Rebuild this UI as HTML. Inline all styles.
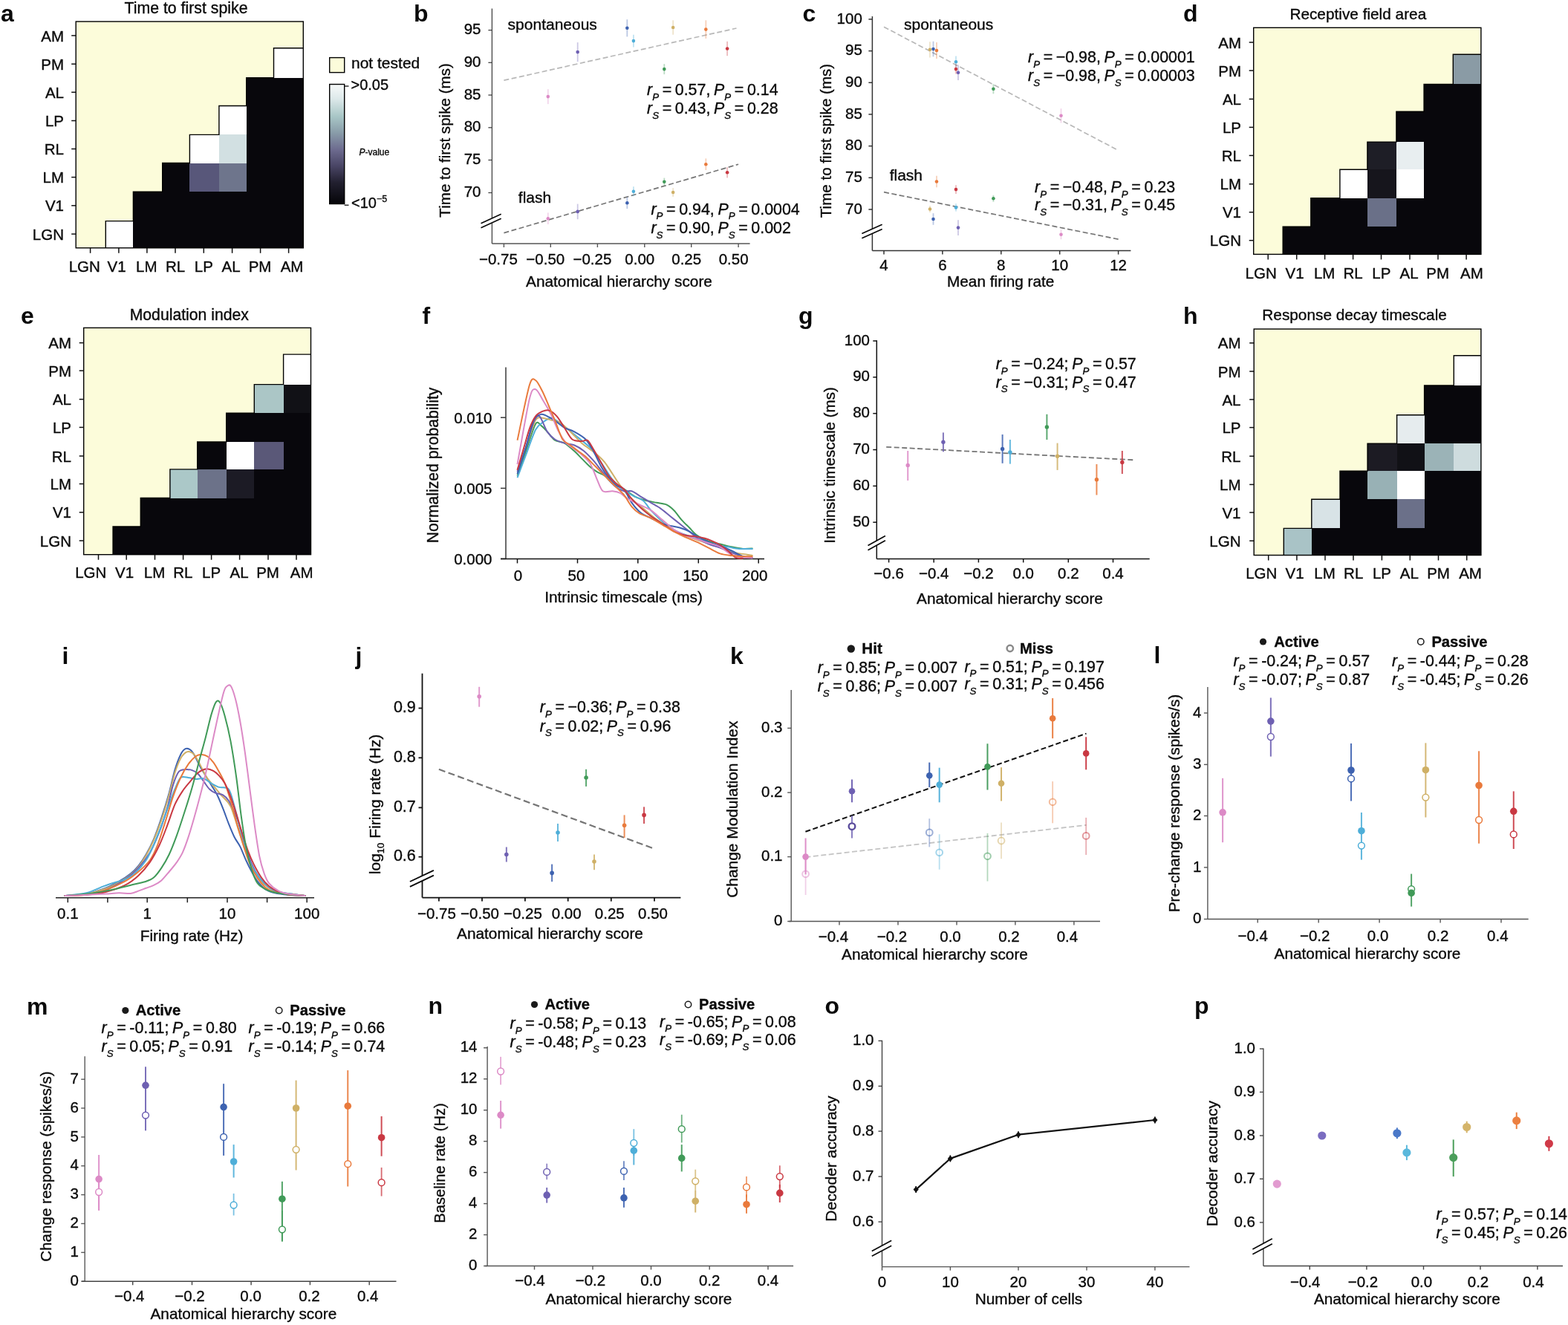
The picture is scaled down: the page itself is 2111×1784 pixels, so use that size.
<!DOCTYPE html>
<html><head><meta charset="utf-8"><title>Figure</title>
<style>
html,body{margin:0;padding:0;background:#fff;}
body{width:2111px;height:1784px;overflow:hidden;}
svg{display:block;}
text{font-family:"Liberation Sans", Arial, Helvetica, sans-serif;fill:#0a0a0a;stroke:#0a0a0a;stroke-width:0.35px;}
</style></head><body>
<svg width="2111" height="1784" viewBox="0 0 2111 1784" font-size="21">
<defs>
<linearGradient id="cbar" x1="0" y1="0" x2="0" y2="1">
<stop offset="0" stop-color="#f8fafa"/>
<stop offset="0.12" stop-color="#dde9ea"/>
<stop offset="0.27" stop-color="#a8c6c6"/>
<stop offset="0.40" stop-color="#8a9eaa"/>
<stop offset="0.55" stop-color="#6c6a8e"/>
<stop offset="0.68" stop-color="#4a4666"/>
<stop offset="0.82" stop-color="#222030"/>
<stop offset="1" stop-color="#050508"/>
</linearGradient>
</defs>
<rect width="2111" height="1784" fill="#fff"/>
<text x="1" y="28.5" font-size="32" font-weight="bold" style="stroke:none">a</text>
<text x="250.5" y="18.2" font-size="21.3" text-anchor="middle">Time to first spike</text>
<rect x="102.2" y="29" width="306.1" height="304.8" fill="#fcfcda"/>
<rect x="368.5" y="64.8" width="39.8" height="40" fill="#ffffff" shape-rendering="crispEdges"/>
<rect x="331.7" y="104.8" width="36.8" height="37.7" fill="#08070c" shape-rendering="crispEdges"/>
<rect x="368.5" y="104.8" width="39.8" height="37.7" fill="#08070c" shape-rendering="crispEdges"/>
<rect x="294.9" y="142.5" width="36.8" height="38.9" fill="#ffffff" shape-rendering="crispEdges"/>
<rect x="331.7" y="142.5" width="36.8" height="38.9" fill="#08070c" shape-rendering="crispEdges"/>
<rect x="368.5" y="142.5" width="39.8" height="38.9" fill="#08070c" shape-rendering="crispEdges"/>
<rect x="255.4" y="181.4" width="39.5" height="38.1" fill="#ffffff" shape-rendering="crispEdges"/>
<rect x="294.9" y="181.4" width="36.8" height="38.1" fill="#d2e0e2" shape-rendering="crispEdges"/>
<rect x="331.7" y="181.4" width="36.8" height="38.1" fill="#08070c" shape-rendering="crispEdges"/>
<rect x="368.5" y="181.4" width="39.8" height="38.1" fill="#08070c" shape-rendering="crispEdges"/>
<rect x="218.7" y="219.5" width="36.7" height="38.8" fill="#08070c" shape-rendering="crispEdges"/>
<rect x="255.4" y="219.5" width="39.5" height="38.8" fill="#58577a" shape-rendering="crispEdges"/>
<rect x="294.9" y="219.5" width="36.8" height="38.8" fill="#6e758c" shape-rendering="crispEdges"/>
<rect x="331.7" y="219.5" width="36.8" height="38.8" fill="#08070c" shape-rendering="crispEdges"/>
<rect x="368.5" y="219.5" width="39.8" height="38.8" fill="#08070c" shape-rendering="crispEdges"/>
<rect x="179.4" y="258.3" width="39.3" height="39.3" fill="#08070c" shape-rendering="crispEdges"/>
<rect x="218.7" y="258.3" width="36.7" height="39.3" fill="#08070c" shape-rendering="crispEdges"/>
<rect x="255.4" y="258.3" width="39.5" height="39.3" fill="#08070c" shape-rendering="crispEdges"/>
<rect x="294.9" y="258.3" width="36.8" height="39.3" fill="#08070c" shape-rendering="crispEdges"/>
<rect x="331.7" y="258.3" width="36.8" height="39.3" fill="#08070c" shape-rendering="crispEdges"/>
<rect x="368.5" y="258.3" width="39.8" height="39.3" fill="#08070c" shape-rendering="crispEdges"/>
<rect x="142.3" y="297.6" width="37.1" height="36.2" fill="#ffffff" shape-rendering="crispEdges"/>
<rect x="179.4" y="297.6" width="39.3" height="36.2" fill="#08070c" shape-rendering="crispEdges"/>
<rect x="218.7" y="297.6" width="36.7" height="36.2" fill="#08070c" shape-rendering="crispEdges"/>
<rect x="255.4" y="297.6" width="39.5" height="36.2" fill="#08070c" shape-rendering="crispEdges"/>
<rect x="294.9" y="297.6" width="36.8" height="36.2" fill="#08070c" shape-rendering="crispEdges"/>
<rect x="331.7" y="297.6" width="36.8" height="36.2" fill="#08070c" shape-rendering="crispEdges"/>
<rect x="368.5" y="297.6" width="39.8" height="36.2" fill="#08070c" shape-rendering="crispEdges"/>
<path d="M408.3 64.8 L368.5 64.8 L368.5 104.8 L331.7 104.8 L331.7 142.5 L294.9 142.5 L294.9 181.4 L255.4 181.4 L255.4 219.5 L218.7 219.5 L218.7 258.3 L179.4 258.3 L179.4 297.6 L142.3 297.6 L142.3 333.8" fill="none" stroke="#000" stroke-width="1.4"/>
<rect x="102.2" y="29" width="306.1" height="304.8" fill="none" stroke="#000" stroke-width="1.4"/>
<line x1="96.2" y1="315.1" x2="102.2" y2="315.1" stroke="#111" stroke-width="1.5"/>
<text x="86" y="322.7" font-size="20.5" text-anchor="end">LGN</text>
<line x1="121.6" y1="333.8" x2="121.6" y2="340.8" stroke="#111" stroke-width="1.5"/>
<text x="113.8" y="366" font-size="20.5" text-anchor="middle">LGN</text>
<line x1="96.2" y1="276.8" x2="102.2" y2="276.8" stroke="#111" stroke-width="1.5"/>
<text x="86" y="284.4" font-size="20.5" text-anchor="end">V1</text>
<line x1="159.9" y1="333.8" x2="159.9" y2="340.8" stroke="#111" stroke-width="1.5"/>
<text x="157" y="366" font-size="20.5" text-anchor="middle">V1</text>
<line x1="96.2" y1="238.6" x2="102.2" y2="238.6" stroke="#111" stroke-width="1.5"/>
<text x="86" y="246.2" font-size="20.5" text-anchor="end">LM</text>
<line x1="197.9" y1="333.8" x2="197.9" y2="340.8" stroke="#111" stroke-width="1.5"/>
<text x="197.3" y="366" font-size="20.5" text-anchor="middle">LM</text>
<line x1="96.2" y1="200.5" x2="102.2" y2="200.5" stroke="#111" stroke-width="1.5"/>
<text x="86" y="208.1" font-size="20.5" text-anchor="end">RL</text>
<line x1="236" y1="333.8" x2="236" y2="340.8" stroke="#111" stroke-width="1.5"/>
<text x="236" y="366" font-size="20.5" text-anchor="middle">RL</text>
<line x1="96.2" y1="162.5" x2="102.2" y2="162.5" stroke="#111" stroke-width="1.5"/>
<text x="86" y="170.1" font-size="20.5" text-anchor="end">LP</text>
<line x1="274.3" y1="333.8" x2="274.3" y2="340.8" stroke="#111" stroke-width="1.5"/>
<text x="274.3" y="366" font-size="20.5" text-anchor="middle">LP</text>
<line x1="96.2" y1="124.2" x2="102.2" y2="124.2" stroke="#111" stroke-width="1.5"/>
<text x="86" y="131.8" font-size="20.5" text-anchor="end">AL</text>
<line x1="312.6" y1="333.8" x2="312.6" y2="340.8" stroke="#111" stroke-width="1.5"/>
<text x="311" y="366" font-size="20.5" text-anchor="middle">AL</text>
<line x1="96.2" y1="86.2" x2="102.2" y2="86.2" stroke="#111" stroke-width="1.5"/>
<text x="86" y="93.8" font-size="20.5" text-anchor="end">PM</text>
<line x1="350.6" y1="333.8" x2="350.6" y2="340.8" stroke="#111" stroke-width="1.5"/>
<text x="350" y="366" font-size="20.5" text-anchor="middle">PM</text>
<line x1="96.2" y1="47.9" x2="102.2" y2="47.9" stroke="#111" stroke-width="1.5"/>
<text x="86" y="55.5" font-size="20.5" text-anchor="end">AM</text>
<line x1="388.6" y1="333.8" x2="388.6" y2="340.8" stroke="#111" stroke-width="1.5"/>
<text x="393" y="366" font-size="20.5" text-anchor="middle">AM</text>
<rect x="443.7" y="77.6" width="20" height="20" fill="#fcfcda" stroke="#000" stroke-width="1.4"/>
<text x="473" y="92">not tested</text>
<rect x="443.7" y="113.5" width="20" height="161" fill="url(#cbar)" stroke="#000" stroke-width="1.4"/>
<line x1="463.7" y1="116" x2="469.5" y2="116" stroke="#111" stroke-width="1.3"/>
<line x1="463.7" y1="276.2" x2="469.5" y2="276.2" stroke="#111" stroke-width="1.3"/>
<text x="472.5" y="120.8" font-size="20">&gt;0.05</text>
<text x="473" y="279.5" font-size="20">&lt;10<tspan font-size="12.5" dy="-8">−5</tspan></text>
<text x="483.5" y="208.6" font-size="12"><tspan font-style="italic">P</tspan>-value</text>
<text x="1593" y="28.5" font-size="32" font-weight="bold" style="stroke:none">d</text>
<text x="1828.3" y="26.4" font-size="20.8" text-anchor="middle">Receptive field area</text>
<rect x="1687.7" y="37.3" width="306.2" height="305.1" fill="#fcfcda"/>
<rect x="1956.3" y="73.2" width="37.6" height="40.2" fill="#8a9ba5" shape-rendering="crispEdges"/>
<rect x="1917.1" y="113.4" width="39.2" height="36.9" fill="#08070c" shape-rendering="crispEdges"/>
<rect x="1956.3" y="113.4" width="37.6" height="36.9" fill="#08070c" shape-rendering="crispEdges"/>
<rect x="1879.9" y="150.3" width="37.2" height="40.8" fill="#08070c" shape-rendering="crispEdges"/>
<rect x="1917.1" y="150.3" width="39.2" height="40.8" fill="#08070c" shape-rendering="crispEdges"/>
<rect x="1956.3" y="150.3" width="37.6" height="40.8" fill="#08070c" shape-rendering="crispEdges"/>
<rect x="1840.9" y="191.1" width="39" height="37.2" fill="#1e1e26" shape-rendering="crispEdges"/>
<rect x="1879.9" y="191.1" width="37.2" height="37.2" fill="#e8eef0" shape-rendering="crispEdges"/>
<rect x="1917.1" y="191.1" width="39.2" height="37.2" fill="#08070c" shape-rendering="crispEdges"/>
<rect x="1956.3" y="191.1" width="37.6" height="37.2" fill="#08070c" shape-rendering="crispEdges"/>
<rect x="1803.9" y="228.3" width="37" height="38.4" fill="#ffffff" shape-rendering="crispEdges"/>
<rect x="1840.9" y="228.3" width="39" height="38.4" fill="#16151c" shape-rendering="crispEdges"/>
<rect x="1879.9" y="228.3" width="37.2" height="38.4" fill="#ffffff" shape-rendering="crispEdges"/>
<rect x="1917.1" y="228.3" width="39.2" height="38.4" fill="#08070c" shape-rendering="crispEdges"/>
<rect x="1956.3" y="228.3" width="37.6" height="38.4" fill="#08070c" shape-rendering="crispEdges"/>
<rect x="1764.8" y="266.7" width="39.1" height="38.6" fill="#08070c" shape-rendering="crispEdges"/>
<rect x="1803.9" y="266.7" width="37" height="38.6" fill="#08070c" shape-rendering="crispEdges"/>
<rect x="1840.9" y="266.7" width="39" height="38.6" fill="#6a7088" shape-rendering="crispEdges"/>
<rect x="1879.9" y="266.7" width="37.2" height="38.6" fill="#08070c" shape-rendering="crispEdges"/>
<rect x="1917.1" y="266.7" width="39.2" height="38.6" fill="#08070c" shape-rendering="crispEdges"/>
<rect x="1956.3" y="266.7" width="37.6" height="38.6" fill="#08070c" shape-rendering="crispEdges"/>
<rect x="1727.2" y="305.3" width="37.6" height="37.1" fill="#08070c" shape-rendering="crispEdges"/>
<rect x="1764.8" y="305.3" width="39.1" height="37.1" fill="#08070c" shape-rendering="crispEdges"/>
<rect x="1803.9" y="305.3" width="37" height="37.1" fill="#08070c" shape-rendering="crispEdges"/>
<rect x="1840.9" y="305.3" width="39" height="37.1" fill="#08070c" shape-rendering="crispEdges"/>
<rect x="1879.9" y="305.3" width="37.2" height="37.1" fill="#08070c" shape-rendering="crispEdges"/>
<rect x="1917.1" y="305.3" width="39.2" height="37.1" fill="#08070c" shape-rendering="crispEdges"/>
<rect x="1956.3" y="305.3" width="37.6" height="37.1" fill="#08070c" shape-rendering="crispEdges"/>
<path d="M1993.9 73.2 L1956.3 73.2 L1956.3 113.4 L1917.1 113.4 L1917.1 150.3 L1879.9 150.3 L1879.9 191.1 L1840.9 191.1 L1840.9 228.3 L1803.9 228.3 L1803.9 266.7 L1764.8 266.7 L1764.8 305.3 L1727.2 305.3 L1727.2 342.4" fill="none" stroke="#000" stroke-width="1.4"/>
<rect x="1687.7" y="37.3" width="306.2" height="305.1" fill="none" stroke="#000" stroke-width="1.4"/>
<line x1="1681.7" y1="323.7" x2="1687.7" y2="323.7" stroke="#111" stroke-width="1.5"/>
<text x="1671" y="331.3" font-size="20.5" text-anchor="end">LGN</text>
<line x1="1707.2" y1="342.4" x2="1707.2" y2="349.4" stroke="#111" stroke-width="1.5"/>
<text x="1697.7" y="374.6" font-size="20.5" text-anchor="middle">LGN</text>
<line x1="1681.7" y1="285.7" x2="1687.7" y2="285.7" stroke="#111" stroke-width="1.5"/>
<text x="1671" y="293.3" font-size="20.5" text-anchor="end">V1</text>
<line x1="1745.7" y1="342.4" x2="1745.7" y2="349.4" stroke="#111" stroke-width="1.5"/>
<text x="1743" y="374.6" font-size="20.5" text-anchor="middle">V1</text>
<line x1="1681.7" y1="247.8" x2="1687.7" y2="247.8" stroke="#111" stroke-width="1.5"/>
<text x="1671" y="255.4" font-size="20.5" text-anchor="end">LM</text>
<line x1="1783.6" y1="342.4" x2="1783.6" y2="349.4" stroke="#111" stroke-width="1.5"/>
<text x="1783.2" y="374.6" font-size="20.5" text-anchor="middle">LM</text>
<line x1="1681.7" y1="209.4" x2="1687.7" y2="209.4" stroke="#111" stroke-width="1.5"/>
<text x="1671" y="217" font-size="20.5" text-anchor="end">RL</text>
<line x1="1821.6" y1="342.4" x2="1821.6" y2="349.4" stroke="#111" stroke-width="1.5"/>
<text x="1821.6" y="374.6" font-size="20.5" text-anchor="middle">RL</text>
<line x1="1681.7" y1="171.4" x2="1687.7" y2="171.4" stroke="#111" stroke-width="1.5"/>
<text x="1671" y="179" font-size="20.5" text-anchor="end">LP</text>
<line x1="1859.5" y1="342.4" x2="1859.5" y2="349.4" stroke="#111" stroke-width="1.5"/>
<text x="1859.8" y="374.6" font-size="20.5" text-anchor="middle">LP</text>
<line x1="1681.7" y1="133.4" x2="1687.7" y2="133.4" stroke="#111" stroke-width="1.5"/>
<text x="1671" y="141" font-size="20.5" text-anchor="end">AL</text>
<line x1="1898" y1="342.4" x2="1898" y2="349.4" stroke="#111" stroke-width="1.5"/>
<text x="1897.1" y="374.6" font-size="20.5" text-anchor="middle">AL</text>
<line x1="1681.7" y1="95" x2="1687.7" y2="95" stroke="#111" stroke-width="1.5"/>
<text x="1671" y="102.6" font-size="20.5" text-anchor="end">PM</text>
<line x1="1936" y1="342.4" x2="1936" y2="349.4" stroke="#111" stroke-width="1.5"/>
<text x="1935.7" y="374.6" font-size="20.5" text-anchor="middle">PM</text>
<line x1="1681.7" y1="57" x2="1687.7" y2="57" stroke="#111" stroke-width="1.5"/>
<text x="1671" y="64.6" font-size="20.5" text-anchor="end">AM</text>
<line x1="1974.1" y1="342.4" x2="1974.1" y2="349.4" stroke="#111" stroke-width="1.5"/>
<text x="1981.4" y="374.6" font-size="20.5" text-anchor="middle">AM</text>
<text x="28" y="436" font-size="32" font-weight="bold" style="stroke:none">e</text>
<text x="254.8" y="431" font-size="21.2" text-anchor="middle">Modulation index</text>
<rect x="112.7" y="441.4" width="305.8" height="305.3" fill="#fcfcda"/>
<rect x="381.6" y="477.1" width="36.9" height="40.5" fill="#ffffff" shape-rendering="crispEdges"/>
<rect x="342.3" y="517.6" width="39.3" height="38.6" fill="#abc6c6" shape-rendering="crispEdges"/>
<rect x="381.6" y="517.6" width="36.9" height="38.6" fill="#111116" shape-rendering="crispEdges"/>
<rect x="304.7" y="556.2" width="37.6" height="38.8" fill="#08070c" shape-rendering="crispEdges"/>
<rect x="342.3" y="556.2" width="39.3" height="38.8" fill="#08070c" shape-rendering="crispEdges"/>
<rect x="381.6" y="556.2" width="36.9" height="38.8" fill="#08070c" shape-rendering="crispEdges"/>
<rect x="265.7" y="595" width="39" height="36.9" fill="#08070c" shape-rendering="crispEdges"/>
<rect x="304.7" y="595" width="37.6" height="36.9" fill="#ffffff" shape-rendering="crispEdges"/>
<rect x="342.3" y="595" width="39.3" height="36.9" fill="#5a5878" shape-rendering="crispEdges"/>
<rect x="381.6" y="595" width="36.9" height="36.9" fill="#08070c" shape-rendering="crispEdges"/>
<rect x="228.9" y="631.9" width="36.8" height="38.6" fill="#abc8c8" shape-rendering="crispEdges"/>
<rect x="265.7" y="631.9" width="39" height="38.6" fill="#6c7289" shape-rendering="crispEdges"/>
<rect x="304.7" y="631.9" width="37.6" height="38.6" fill="#1c1b25" shape-rendering="crispEdges"/>
<rect x="342.3" y="631.9" width="39.3" height="38.6" fill="#08070c" shape-rendering="crispEdges"/>
<rect x="381.6" y="631.9" width="36.9" height="38.6" fill="#08070c" shape-rendering="crispEdges"/>
<rect x="189.3" y="670.5" width="39.6" height="38.5" fill="#08070c" shape-rendering="crispEdges"/>
<rect x="228.9" y="670.5" width="36.8" height="38.5" fill="#08070c" shape-rendering="crispEdges"/>
<rect x="265.7" y="670.5" width="39" height="38.5" fill="#08070c" shape-rendering="crispEdges"/>
<rect x="304.7" y="670.5" width="37.6" height="38.5" fill="#08070c" shape-rendering="crispEdges"/>
<rect x="342.3" y="670.5" width="39.3" height="38.5" fill="#08070c" shape-rendering="crispEdges"/>
<rect x="381.6" y="670.5" width="36.9" height="38.5" fill="#08070c" shape-rendering="crispEdges"/>
<rect x="152.1" y="709" width="37.2" height="37.7" fill="#08070c" shape-rendering="crispEdges"/>
<rect x="189.3" y="709" width="39.6" height="37.7" fill="#08070c" shape-rendering="crispEdges"/>
<rect x="228.9" y="709" width="36.8" height="37.7" fill="#08070c" shape-rendering="crispEdges"/>
<rect x="265.7" y="709" width="39" height="37.7" fill="#08070c" shape-rendering="crispEdges"/>
<rect x="304.7" y="709" width="37.6" height="37.7" fill="#08070c" shape-rendering="crispEdges"/>
<rect x="342.3" y="709" width="39.3" height="37.7" fill="#08070c" shape-rendering="crispEdges"/>
<rect x="381.6" y="709" width="36.9" height="37.7" fill="#08070c" shape-rendering="crispEdges"/>
<path d="M418.5 477.1 L381.6 477.1 L381.6 517.6 L342.3 517.6 L342.3 556.2 L304.7 556.2 L304.7 595 L265.7 595 L265.7 631.9 L228.9 631.9 L228.9 670.5 L189.3 670.5 L189.3 709 L152.1 709 L152.1 746.7" fill="none" stroke="#000" stroke-width="1.4"/>
<rect x="112.7" y="441.4" width="305.8" height="305.3" fill="none" stroke="#000" stroke-width="1.4"/>
<line x1="106.7" y1="728" x2="112.7" y2="728" stroke="#111" stroke-width="1.5"/>
<text x="96" y="735.6" font-size="20.5" text-anchor="end">LGN</text>
<line x1="132.5" y1="746.7" x2="132.5" y2="753.7" stroke="#111" stroke-width="1.5"/>
<text x="122.3" y="778.3" font-size="20.5" text-anchor="middle">LGN</text>
<line x1="106.7" y1="689.8" x2="112.7" y2="689.8" stroke="#111" stroke-width="1.5"/>
<text x="96" y="697.4" font-size="20.5" text-anchor="end">V1</text>
<line x1="170.2" y1="746.7" x2="170.2" y2="753.7" stroke="#111" stroke-width="1.5"/>
<text x="167.5" y="778.3" font-size="20.5" text-anchor="middle">V1</text>
<line x1="106.7" y1="651.5" x2="112.7" y2="651.5" stroke="#111" stroke-width="1.5"/>
<text x="96" y="659.1" font-size="20.5" text-anchor="end">LM</text>
<line x1="208.5" y1="746.7" x2="208.5" y2="753.7" stroke="#111" stroke-width="1.5"/>
<text x="208" y="778.3" font-size="20.5" text-anchor="middle">LM</text>
<line x1="106.7" y1="614" x2="112.7" y2="614" stroke="#111" stroke-width="1.5"/>
<text x="96" y="621.6" font-size="20.5" text-anchor="end">RL</text>
<line x1="246.6" y1="746.7" x2="246.6" y2="753.7" stroke="#111" stroke-width="1.5"/>
<text x="246.4" y="778.3" font-size="20.5" text-anchor="middle">RL</text>
<line x1="106.7" y1="575.4" x2="112.7" y2="575.4" stroke="#111" stroke-width="1.5"/>
<text x="96" y="583" font-size="20.5" text-anchor="end">LP</text>
<line x1="284.6" y1="746.7" x2="284.6" y2="753.7" stroke="#111" stroke-width="1.5"/>
<text x="284.6" y="778.3" font-size="20.5" text-anchor="middle">LP</text>
<line x1="106.7" y1="537.6" x2="112.7" y2="537.6" stroke="#111" stroke-width="1.5"/>
<text x="96" y="545.2" font-size="20.5" text-anchor="end">AL</text>
<line x1="322.6" y1="746.7" x2="322.6" y2="753.7" stroke="#111" stroke-width="1.5"/>
<text x="322" y="778.3" font-size="20.5" text-anchor="middle">AL</text>
<line x1="106.7" y1="499.1" x2="112.7" y2="499.1" stroke="#111" stroke-width="1.5"/>
<text x="96" y="506.7" font-size="20.5" text-anchor="end">PM</text>
<line x1="361" y1="746.7" x2="361" y2="753.7" stroke="#111" stroke-width="1.5"/>
<text x="360.5" y="778.3" font-size="20.5" text-anchor="middle">PM</text>
<line x1="106.7" y1="461.6" x2="112.7" y2="461.6" stroke="#111" stroke-width="1.5"/>
<text x="96" y="469.2" font-size="20.5" text-anchor="end">AM</text>
<line x1="399" y1="746.7" x2="399" y2="753.7" stroke="#111" stroke-width="1.5"/>
<text x="406.2" y="778.3" font-size="20.5" text-anchor="middle">AM</text>
<text x="1593" y="435.5" font-size="32" font-weight="bold" style="stroke:none">h</text>
<text x="1823.6" y="430.5" font-size="20.8" text-anchor="middle">Response decay timescale</text>
<rect x="1688.2" y="443" width="305.7" height="304.5" fill="#fcfcda"/>
<rect x="1957.3" y="478.8" width="36.6" height="40.2" fill="#ffffff" shape-rendering="crispEdges"/>
<rect x="1917.6" y="519" width="39.7" height="39.7" fill="#08070c" shape-rendering="crispEdges"/>
<rect x="1957.3" y="519" width="36.6" height="39.7" fill="#08070c" shape-rendering="crispEdges"/>
<rect x="1880.6" y="558.7" width="37" height="38.4" fill="#e6ecee" shape-rendering="crispEdges"/>
<rect x="1917.6" y="558.7" width="39.7" height="38.4" fill="#08070c" shape-rendering="crispEdges"/>
<rect x="1957.3" y="558.7" width="36.6" height="38.4" fill="#08070c" shape-rendering="crispEdges"/>
<rect x="1841.1" y="597.1" width="39.5" height="37" fill="#1c1b23" shape-rendering="crispEdges"/>
<rect x="1880.6" y="597.1" width="37" height="37" fill="#111116" shape-rendering="crispEdges"/>
<rect x="1917.6" y="597.1" width="39.7" height="37" fill="#9bb3b7" shape-rendering="crispEdges"/>
<rect x="1957.3" y="597.1" width="36.6" height="37" fill="#cedcde" shape-rendering="crispEdges"/>
<rect x="1804" y="634.1" width="37.1" height="38.2" fill="#08070c" shape-rendering="crispEdges"/>
<rect x="1841.1" y="634.1" width="39.5" height="38.2" fill="#98b1b5" shape-rendering="crispEdges"/>
<rect x="1880.6" y="634.1" width="37" height="38.2" fill="#ffffff" shape-rendering="crispEdges"/>
<rect x="1917.6" y="634.1" width="39.7" height="38.2" fill="#08070c" shape-rendering="crispEdges"/>
<rect x="1957.3" y="634.1" width="36.6" height="38.2" fill="#08070c" shape-rendering="crispEdges"/>
<rect x="1765.8" y="672.3" width="38.2" height="39.1" fill="#d8e3e6" shape-rendering="crispEdges"/>
<rect x="1804" y="672.3" width="37.1" height="39.1" fill="#08070c" shape-rendering="crispEdges"/>
<rect x="1841.1" y="672.3" width="39.5" height="39.1" fill="#08070c" shape-rendering="crispEdges"/>
<rect x="1880.6" y="672.3" width="37" height="39.1" fill="#6b7089" shape-rendering="crispEdges"/>
<rect x="1917.6" y="672.3" width="39.7" height="39.1" fill="#08070c" shape-rendering="crispEdges"/>
<rect x="1957.3" y="672.3" width="36.6" height="39.1" fill="#08070c" shape-rendering="crispEdges"/>
<rect x="1728.3" y="711.4" width="37.5" height="36.1" fill="#a9c3c6" shape-rendering="crispEdges"/>
<rect x="1765.8" y="711.4" width="38.2" height="36.1" fill="#08070c" shape-rendering="crispEdges"/>
<rect x="1804" y="711.4" width="37.1" height="36.1" fill="#08070c" shape-rendering="crispEdges"/>
<rect x="1841.1" y="711.4" width="39.5" height="36.1" fill="#08070c" shape-rendering="crispEdges"/>
<rect x="1880.6" y="711.4" width="37" height="36.1" fill="#08070c" shape-rendering="crispEdges"/>
<rect x="1917.6" y="711.4" width="39.7" height="36.1" fill="#08070c" shape-rendering="crispEdges"/>
<rect x="1957.3" y="711.4" width="36.6" height="36.1" fill="#08070c" shape-rendering="crispEdges"/>
<path d="M1993.9 478.8 L1957.3 478.8 L1957.3 519 L1917.6 519 L1917.6 558.7 L1880.6 558.7 L1880.6 597.1 L1841.1 597.1 L1841.1 634.1 L1804 634.1 L1804 672.3 L1765.8 672.3 L1765.8 711.4 L1728.3 711.4 L1728.3 747.5" fill="none" stroke="#000" stroke-width="1.4"/>
<rect x="1688.2" y="443" width="305.7" height="304.5" fill="none" stroke="#000" stroke-width="1.4"/>
<line x1="1682.2" y1="728.2" x2="1688.2" y2="728.2" stroke="#111" stroke-width="1.5"/>
<text x="1670.5" y="735.8" font-size="20.5" text-anchor="end">LGN</text>
<line x1="1707.7" y1="747.5" x2="1707.7" y2="754.5" stroke="#111" stroke-width="1.5"/>
<text x="1698.3" y="779.1" font-size="20.5" text-anchor="middle">LGN</text>
<line x1="1682.2" y1="690" x2="1688.2" y2="690" stroke="#111" stroke-width="1.5"/>
<text x="1670.5" y="697.6" font-size="20.5" text-anchor="end">V1</text>
<line x1="1745.9" y1="747.5" x2="1745.9" y2="754.5" stroke="#111" stroke-width="1.5"/>
<text x="1743.1" y="779.1" font-size="20.5" text-anchor="middle">V1</text>
<line x1="1682.2" y1="652.4" x2="1688.2" y2="652.4" stroke="#111" stroke-width="1.5"/>
<text x="1670.5" y="660" font-size="20.5" text-anchor="end">LM</text>
<line x1="1784" y1="747.5" x2="1784" y2="754.5" stroke="#111" stroke-width="1.5"/>
<text x="1783.6" y="779.1" font-size="20.5" text-anchor="middle">LM</text>
<line x1="1682.2" y1="614.2" x2="1688.2" y2="614.2" stroke="#111" stroke-width="1.5"/>
<text x="1670.5" y="621.8" font-size="20.5" text-anchor="end">RL</text>
<line x1="1822" y1="747.5" x2="1822" y2="754.5" stroke="#111" stroke-width="1.5"/>
<text x="1822.2" y="779.1" font-size="20.5" text-anchor="middle">RL</text>
<line x1="1682.2" y1="575.6" x2="1688.2" y2="575.6" stroke="#111" stroke-width="1.5"/>
<text x="1670.5" y="583.2" font-size="20.5" text-anchor="end">LP</text>
<line x1="1860.4" y1="747.5" x2="1860.4" y2="754.5" stroke="#111" stroke-width="1.5"/>
<text x="1860.5" y="779.1" font-size="20.5" text-anchor="middle">LP</text>
<line x1="1682.2" y1="537.9" x2="1688.2" y2="537.9" stroke="#111" stroke-width="1.5"/>
<text x="1670.5" y="545.5" font-size="20.5" text-anchor="end">AL</text>
<line x1="1898.3" y1="747.5" x2="1898.3" y2="754.5" stroke="#111" stroke-width="1.5"/>
<text x="1897.4" y="779.1" font-size="20.5" text-anchor="middle">AL</text>
<line x1="1682.2" y1="500" x2="1688.2" y2="500" stroke="#111" stroke-width="1.5"/>
<text x="1670.5" y="507.6" font-size="20.5" text-anchor="end">PM</text>
<line x1="1936.5" y1="747.5" x2="1936.5" y2="754.5" stroke="#111" stroke-width="1.5"/>
<text x="1936.5" y="779.1" font-size="20.5" text-anchor="middle">PM</text>
<line x1="1682.2" y1="461.8" x2="1688.2" y2="461.8" stroke="#111" stroke-width="1.5"/>
<text x="1670.5" y="469.4" font-size="20.5" text-anchor="end">AM</text>
<line x1="1974.7" y1="747.5" x2="1974.7" y2="754.5" stroke="#111" stroke-width="1.5"/>
<text x="1979.5" y="779.1" font-size="20.5" text-anchor="middle">AM</text>
<text x="557" y="28.5" font-size="32" font-weight="bold" style="stroke:none">b</text>
<line x1="662.4" y1="11.6" x2="662.4" y2="328" stroke="#444" stroke-width="1.3"/>
<line x1="657.4" y1="40.6" x2="662.4" y2="40.6" stroke="#444" stroke-width="1.3"/>
<text x="647.5" y="46.2" font-size="20.5" text-anchor="end">95</text>
<line x1="657.4" y1="84.3" x2="662.4" y2="84.3" stroke="#444" stroke-width="1.3"/>
<text x="647.5" y="89.9" font-size="20.5" text-anchor="end">90</text>
<line x1="657.4" y1="128" x2="662.4" y2="128" stroke="#444" stroke-width="1.3"/>
<text x="647.5" y="133.6" font-size="20.5" text-anchor="end">85</text>
<line x1="657.4" y1="171.8" x2="662.4" y2="171.8" stroke="#444" stroke-width="1.3"/>
<text x="647.5" y="177.4" font-size="20.5" text-anchor="end">80</text>
<line x1="657.4" y1="215.5" x2="662.4" y2="215.5" stroke="#444" stroke-width="1.3"/>
<text x="647.5" y="221.1" font-size="20.5" text-anchor="end">75</text>
<line x1="657.4" y1="259.5" x2="662.4" y2="259.5" stroke="#444" stroke-width="1.3"/>
<text x="647.5" y="265.1" font-size="20.5" text-anchor="end">70</text>
<line x1="662.4" y1="328" x2="1009.6" y2="328" stroke="#555" stroke-width="1.4"/>
<line x1="678.4" y1="328" x2="678.4" y2="333" stroke="#555" stroke-width="1.4"/>
<text x="670.9" y="355.8" font-size="20.5" text-anchor="middle">−0.75</text>
<line x1="741.3" y1="328" x2="741.3" y2="333" stroke="#555" stroke-width="1.4"/>
<text x="734.3" y="355.8" font-size="20.5" text-anchor="middle">−0.50</text>
<line x1="804.4" y1="328" x2="804.4" y2="333" stroke="#555" stroke-width="1.4"/>
<text x="797.4" y="355.8" font-size="20.5" text-anchor="middle">−0.25</text>
<line x1="867.8" y1="328" x2="867.8" y2="333" stroke="#555" stroke-width="1.4"/>
<text x="861.3" y="355.8" font-size="20.5" text-anchor="middle">0.00</text>
<line x1="930.7" y1="328" x2="930.7" y2="333" stroke="#555" stroke-width="1.4"/>
<text x="924.2" y="355.8" font-size="20.5" text-anchor="middle">0.25</text>
<line x1="994.1" y1="328" x2="994.1" y2="333" stroke="#555" stroke-width="1.4"/>
<text x="987.6" y="355.8" font-size="20.5" text-anchor="middle">0.50</text>
<path d="M658.1 295.86 L664.1 293.14 L664.1 299.14 L658.1 301.86 Z" fill="#fff"/>
<line x1="647.5" y1="300.65" x2="674.7" y2="288.35" stroke="#0a0a0a" stroke-width="1.7"/>
<line x1="647.5" y1="306.65" x2="674.7" y2="294.35" stroke="#0a0a0a" stroke-width="1.7"/>
<text x="833.5" y="385.5" font-size="20.8" text-anchor="middle">Anatomical hierarchy score</text>
<text x="606.5" y="188.9" font-size="20.6" text-anchor="middle" transform="rotate(-90 606.5 188.9)">Time to first spike (ms)</text>
<text x="683.6" y="40.1">spontaneous</text>
<text x="697.8" y="273">flash</text>
<line x1="678.4" y1="108.2" x2="991.5" y2="38" stroke="#b8b8b8" stroke-width="1.7" stroke-dasharray="7 3.5"/>
<line x1="678.4" y1="313.6" x2="994.1" y2="221.2" stroke="#757575" stroke-width="1.7" stroke-dasharray="7 3.5"/>
<line x1="737.81" y1="120.1" x2="737.81" y2="140.1" stroke="#dc8ac6" stroke-width="1.8" stroke-opacity="0.35"/>
<circle cx="737.81" cy="130.1" r="2.3" fill="#dc8ac6" opacity="1"/>
<line x1="737.81" y1="286.4" x2="737.81" y2="302" stroke="#dc8ac6" stroke-width="1.8" stroke-opacity="0.35"/>
<circle cx="737.81" cy="294.2" r="2.3" fill="#dc8ac6" opacity="1"/>
<line x1="777.69" y1="57.1" x2="777.69" y2="83.1" stroke="#6e60b2" stroke-width="1.8" stroke-opacity="0.35"/>
<circle cx="777.69" cy="70.1" r="2.3" fill="#6e60b2" opacity="1"/>
<line x1="777.69" y1="274.6" x2="777.69" y2="295.2" stroke="#6e60b2" stroke-width="1.8" stroke-opacity="0.35"/>
<circle cx="777.69" cy="284.9" r="2.3" fill="#6e60b2" opacity="1"/>
<line x1="844.33" y1="26.2" x2="844.33" y2="49.4" stroke="#3d62b0" stroke-width="1.8" stroke-opacity="0.35"/>
<circle cx="844.33" cy="37.8" r="2.3" fill="#3d62b0" opacity="1"/>
<line x1="844.33" y1="265.4" x2="844.33" y2="281" stroke="#3d62b0" stroke-width="1.8" stroke-opacity="0.35"/>
<circle cx="844.33" cy="273.2" r="2.3" fill="#3d62b0" opacity="1"/>
<line x1="852.91" y1="46.7" x2="852.91" y2="63.5" stroke="#4eaed8" stroke-width="1.8" stroke-opacity="0.35"/>
<circle cx="852.91" cy="55.1" r="2.3" fill="#4eaed8" opacity="1"/>
<line x1="852.91" y1="251.2" x2="852.91" y2="264.2" stroke="#4eaed8" stroke-width="1.8" stroke-opacity="0.35"/>
<circle cx="852.91" cy="257.7" r="2.3" fill="#4eaed8" opacity="1"/>
<line x1="894.3" y1="86.1" x2="894.3" y2="100.1" stroke="#409a58" stroke-width="1.8" stroke-opacity="0.35"/>
<circle cx="894.3" cy="93.1" r="2.3" fill="#409a58" opacity="1"/>
<line x1="894.3" y1="239.6" x2="894.3" y2="250" stroke="#409a58" stroke-width="1.8" stroke-opacity="0.35"/>
<circle cx="894.3" cy="244.8" r="2.3" fill="#409a58" opacity="1"/>
<line x1="906.16" y1="27.3" x2="906.16" y2="46.7" stroke="#cfb066" stroke-width="1.8" stroke-opacity="0.35"/>
<circle cx="906.16" cy="37" r="2.3" fill="#cfb066" opacity="1"/>
<line x1="906.16" y1="253.2" x2="906.16" y2="264.8" stroke="#cfb066" stroke-width="1.8" stroke-opacity="0.35"/>
<circle cx="906.16" cy="259" r="2.3" fill="#cfb066" opacity="1"/>
<line x1="950.33" y1="27.3" x2="950.33" y2="51.9" stroke="#e97a3c" stroke-width="1.8" stroke-opacity="0.35"/>
<circle cx="950.33" cy="39.6" r="2.3" fill="#e97a3c" opacity="1"/>
<line x1="950.33" y1="213.4" x2="950.33" y2="229" stroke="#e97a3c" stroke-width="1.8" stroke-opacity="0.35"/>
<circle cx="950.33" cy="221.2" r="2.3" fill="#e97a3c" opacity="1"/>
<line x1="979.11" y1="55.8" x2="979.11" y2="75.2" stroke="#c93842" stroke-width="1.8" stroke-opacity="0.35"/>
<circle cx="979.11" cy="65.5" r="2.3" fill="#c93842" opacity="1"/>
<line x1="979.11" y1="225.2" x2="979.11" y2="239.4" stroke="#c93842" stroke-width="1.8" stroke-opacity="0.35"/>
<circle cx="979.11" cy="232.3" r="2.3" fill="#c93842" opacity="1"/>
<text x="871" y="128" word-spacing="-1.3" font-size="21.4" xml:space="preserve"><tspan font-style="italic">r</tspan><tspan font-style="italic" font-size="13.27" dy="6.8">P</tspan><tspan dy="-6.8"> = 0.57, </tspan><tspan font-style="italic">P</tspan><tspan font-style="italic" font-size="13.27" dy="6.8">P</tspan><tspan dy="-6.8"> = 0.14</tspan></text>
<text x="871" y="152.7" word-spacing="-1.3" font-size="21.4" xml:space="preserve"><tspan font-style="italic">r</tspan><tspan font-style="italic" font-size="13.27" dy="6.8">S</tspan><tspan dy="-6.8"> = 0.43, </tspan><tspan font-style="italic">P</tspan><tspan font-style="italic" font-size="13.27" dy="6.8">S</tspan><tspan dy="-6.8"> = 0.28</tspan></text>
<text x="876.4" y="288.5" word-spacing="-1.3" font-size="21.4" xml:space="preserve"><tspan font-style="italic">r</tspan><tspan font-style="italic" font-size="13.27" dy="6.8">P</tspan><tspan dy="-6.8"> = 0.94, </tspan><tspan font-style="italic">P</tspan><tspan font-style="italic" font-size="13.27" dy="6.8">P</tspan><tspan dy="-6.8"> = 0.0004</tspan></text>
<text x="876.4" y="314.4" word-spacing="-1.3" font-size="21.4" xml:space="preserve"><tspan font-style="italic">r</tspan><tspan font-style="italic" font-size="13.27" dy="6.8">S</tspan><tspan dy="-6.8"> = 0.90, </tspan><tspan font-style="italic">P</tspan><tspan font-style="italic" font-size="13.27" dy="6.8">S</tspan><tspan dy="-6.8"> = 0.002</tspan></text>
<text x="1080.5" y="28.5" font-size="32" font-weight="bold" style="stroke:none">c</text>
<line x1="1174.4" y1="22" x2="1174.4" y2="337.6" stroke="#333" stroke-width="1.5"/>
<line x1="1169.4" y1="25.9" x2="1174.4" y2="25.9" stroke="#333" stroke-width="1.5"/>
<text x="1160.8" y="31.5" font-size="20.5" text-anchor="end">100</text>
<line x1="1169.4" y1="68.58" x2="1174.4" y2="68.58" stroke="#333" stroke-width="1.5"/>
<text x="1160.8" y="74.18" font-size="20.5" text-anchor="end">95</text>
<line x1="1169.4" y1="111.26" x2="1174.4" y2="111.26" stroke="#333" stroke-width="1.5"/>
<text x="1160.8" y="116.86" font-size="20.5" text-anchor="end">90</text>
<line x1="1169.4" y1="153.94" x2="1174.4" y2="153.94" stroke="#333" stroke-width="1.5"/>
<text x="1160.8" y="159.54" font-size="20.5" text-anchor="end">85</text>
<line x1="1169.4" y1="196.62" x2="1174.4" y2="196.62" stroke="#333" stroke-width="1.5"/>
<text x="1160.8" y="202.22" font-size="20.5" text-anchor="end">80</text>
<line x1="1169.4" y1="239.3" x2="1174.4" y2="239.3" stroke="#333" stroke-width="1.5"/>
<text x="1160.8" y="244.9" font-size="20.5" text-anchor="end">75</text>
<line x1="1169.4" y1="281.98" x2="1174.4" y2="281.98" stroke="#333" stroke-width="1.5"/>
<text x="1160.8" y="287.58" font-size="20.5" text-anchor="end">70</text>
<line x1="1174.4" y1="337.6" x2="1522.4" y2="337.6" stroke="#333" stroke-width="1.5"/>
<line x1="1190" y1="337.6" x2="1190" y2="342.6" stroke="#333" stroke-width="1.5"/>
<text x="1190" y="363.5" font-size="20.5" text-anchor="middle">4</text>
<line x1="1268.9" y1="337.6" x2="1268.9" y2="342.6" stroke="#333" stroke-width="1.5"/>
<text x="1268.9" y="363.5" font-size="20.5" text-anchor="middle">6</text>
<line x1="1347.8" y1="337.6" x2="1347.8" y2="342.6" stroke="#333" stroke-width="1.5"/>
<text x="1347.8" y="363.5" font-size="20.5" text-anchor="middle">8</text>
<line x1="1426.7" y1="337.6" x2="1426.7" y2="342.6" stroke="#333" stroke-width="1.5"/>
<text x="1426.7" y="363.5" font-size="20.5" text-anchor="middle">10</text>
<line x1="1505.6" y1="337.6" x2="1505.6" y2="342.6" stroke="#333" stroke-width="1.5"/>
<text x="1505.6" y="363.5" font-size="20.5" text-anchor="middle">12</text>
<path d="M1171 309.74 L1177 307.06 L1177 313.26 L1171 315.94 Z" fill="#fff"/>
<line x1="1160.35" y1="314.5" x2="1187.65" y2="302.3" stroke="#0a0a0a" stroke-width="1.7"/>
<line x1="1160.35" y1="320.7" x2="1187.65" y2="308.5" stroke="#0a0a0a" stroke-width="1.7"/>
<text x="1347.2" y="385.5" font-size="20.8" text-anchor="middle">Mean firing rate</text>
<text x="1119.3" y="189.5" font-size="20.6" text-anchor="middle" transform="rotate(-90 1119.3 189.5)">Time to first spike (ms)</text>
<text x="1217" y="40.1">spontaneous</text>
<text x="1197.7" y="243.2">flash</text>
<line x1="1190" y1="36.2" x2="1504.3" y2="201.8" stroke="#b8b8b8" stroke-width="1.7" stroke-dasharray="7 3.5"/>
<line x1="1190" y1="258.7" x2="1505.6" y2="322.1" stroke="#757575" stroke-width="1.7" stroke-dasharray="7 3.5"/>
<line x1="1428.5" y1="146.1" x2="1428.5" y2="165.5" stroke="#dc8ac6" stroke-width="1.8" stroke-opacity="0.35"/>
<circle cx="1428.5" cy="155.8" r="2.3" fill="#dc8ac6" opacity="1"/>
<line x1="1428.5" y1="309.2" x2="1428.5" y2="322.2" stroke="#dc8ac6" stroke-width="1.8" stroke-opacity="0.35"/>
<circle cx="1428.5" cy="315.7" r="2.3" fill="#dc8ac6" opacity="1"/>
<line x1="1290" y1="87.5" x2="1290" y2="108.1" stroke="#6e60b2" stroke-width="1.8" stroke-opacity="0.35"/>
<circle cx="1290" cy="97.8" r="2.3" fill="#6e60b2" opacity="1"/>
<line x1="1290" y1="296.3" x2="1290" y2="316.9" stroke="#6e60b2" stroke-width="1.8" stroke-opacity="0.35"/>
<circle cx="1290" cy="306.6" r="2.3" fill="#6e60b2" opacity="1"/>
<line x1="1256.5" y1="55.7" x2="1256.5" y2="76.3" stroke="#3d62b0" stroke-width="1.8" stroke-opacity="0.35"/>
<circle cx="1256.5" cy="66" r="2.3" fill="#3d62b0" opacity="1"/>
<line x1="1256.5" y1="287.2" x2="1256.5" y2="302.8" stroke="#3d62b0" stroke-width="1.8" stroke-opacity="0.35"/>
<circle cx="1256.5" cy="295" r="2.3" fill="#3d62b0" opacity="1"/>
<line x1="1287" y1="75.5" x2="1287" y2="91.1" stroke="#4eaed8" stroke-width="1.8" stroke-opacity="0.35"/>
<circle cx="1287" cy="83.3" r="2.3" fill="#4eaed8" opacity="1"/>
<line x1="1287" y1="274.2" x2="1287" y2="284.6" stroke="#4eaed8" stroke-width="1.8" stroke-opacity="0.35"/>
<circle cx="1287" cy="279.4" r="2.3" fill="#4eaed8" opacity="1"/>
<line x1="1337.4" y1="113.3" x2="1337.4" y2="126.3" stroke="#409a58" stroke-width="1.8" stroke-opacity="0.35"/>
<circle cx="1337.4" cy="119.8" r="2.3" fill="#409a58" opacity="1"/>
<line x1="1337.4" y1="262.8" x2="1337.4" y2="271.8" stroke="#409a58" stroke-width="1.8" stroke-opacity="0.35"/>
<circle cx="1337.4" cy="267.3" r="2.3" fill="#409a58" opacity="1"/>
<line x1="1252" y1="56.2" x2="1252" y2="77.4" stroke="#cfb066" stroke-width="1.8" stroke-opacity="0.35"/>
<circle cx="1252" cy="66.8" r="2.3" fill="#cfb066" opacity="1"/>
<line x1="1252" y1="277" x2="1252" y2="286" stroke="#cfb066" stroke-width="1.8" stroke-opacity="0.35"/>
<circle cx="1252" cy="281.5" r="2.3" fill="#cfb066" opacity="1"/>
<line x1="1261" y1="57" x2="1261" y2="79" stroke="#e97a3c" stroke-width="1.8" stroke-opacity="0.35"/>
<circle cx="1261" cy="68" r="2.3" fill="#e97a3c" opacity="1"/>
<line x1="1261" y1="236.7" x2="1261" y2="252.3" stroke="#e97a3c" stroke-width="1.8" stroke-opacity="0.35"/>
<circle cx="1261" cy="244.5" r="2.3" fill="#e97a3c" opacity="1"/>
<line x1="1287" y1="86.6" x2="1287" y2="99.6" stroke="#c93842" stroke-width="1.8" stroke-opacity="0.35"/>
<circle cx="1287" cy="93.1" r="2.3" fill="#c93842" opacity="1"/>
<line x1="1287" y1="249.3" x2="1287" y2="260.9" stroke="#c93842" stroke-width="1.8" stroke-opacity="0.35"/>
<circle cx="1287" cy="255.1" r="2.3" fill="#c93842" opacity="1"/>
<text x="1384" y="84" word-spacing="-1.3" font-size="21.4" xml:space="preserve"><tspan font-style="italic">r</tspan><tspan font-style="italic" font-size="13.27" dy="6.8">P</tspan><tspan dy="-6.8"> = −0.98, </tspan><tspan font-style="italic">P</tspan><tspan font-style="italic" font-size="13.27" dy="6.8">P</tspan><tspan dy="-6.8"> = 0.00001</tspan></text>
<text x="1384" y="108.7" word-spacing="-1.3" font-size="21.4" xml:space="preserve"><tspan font-style="italic">r</tspan><tspan font-style="italic" font-size="13.27" dy="6.8">S</tspan><tspan dy="-6.8"> = −0.98, </tspan><tspan font-style="italic">P</tspan><tspan font-style="italic" font-size="13.27" dy="6.8">S</tspan><tspan dy="-6.8"> = 0.00003</tspan></text>
<text x="1393" y="258.7" word-spacing="-1.3" font-size="21.4" xml:space="preserve"><tspan font-style="italic">r</tspan><tspan font-style="italic" font-size="13.27" dy="6.8">P</tspan><tspan dy="-6.8"> = −0.48, </tspan><tspan font-style="italic">P</tspan><tspan font-style="italic" font-size="13.27" dy="6.8">P</tspan><tspan dy="-6.8"> = 0.23</tspan></text>
<text x="1393" y="283.3" word-spacing="-1.3" font-size="21.4" xml:space="preserve"><tspan font-style="italic">r</tspan><tspan font-style="italic" font-size="13.27" dy="6.8">S</tspan><tspan dy="-6.8"> = −0.31, </tspan><tspan font-style="italic">P</tspan><tspan font-style="italic" font-size="13.27" dy="6.8">S</tspan><tspan dy="-6.8"> = 0.45</tspan></text>
<text x="568.5" y="436" font-size="32" font-weight="bold" style="stroke:none">f</text>
<line x1="681" y1="494.4" x2="681" y2="752.4" stroke="#3a3a3a" stroke-width="1.5"/>
<line x1="674" y1="562.2" x2="681" y2="562.2" stroke="#3a3a3a" stroke-width="1.5"/>
<text x="662.5" y="569.7" font-size="20.5" text-anchor="end">0.010</text>
<line x1="674" y1="657.4" x2="681" y2="657.4" stroke="#3a3a3a" stroke-width="1.5"/>
<text x="662.5" y="664.9" font-size="20.5" text-anchor="end">0.005</text>
<line x1="674" y1="752.4" x2="681" y2="752.4" stroke="#3a3a3a" stroke-width="1.5"/>
<text x="662.5" y="759.9" font-size="20.5" text-anchor="end">0.000</text>
<line x1="674" y1="752.4" x2="1029" y2="752.4" stroke="#111" stroke-width="1.5"/>
<line x1="696.5" y1="752.4" x2="696.5" y2="758.4" stroke="#111" stroke-width="1.5"/>
<text x="697.5" y="782.4" font-size="20.5" text-anchor="middle">0</text>
<line x1="777.5" y1="752.4" x2="777.5" y2="758.4" stroke="#111" stroke-width="1.5"/>
<text x="776" y="782.4" font-size="20.5" text-anchor="middle">50</text>
<line x1="858.8" y1="752.4" x2="858.8" y2="758.4" stroke="#111" stroke-width="1.5"/>
<text x="855.3" y="782.4" font-size="20.5" text-anchor="middle">100</text>
<line x1="940.3" y1="752.4" x2="940.3" y2="758.4" stroke="#111" stroke-width="1.5"/>
<text x="936.3" y="782.4" font-size="20.5" text-anchor="middle">150</text>
<line x1="1021.2" y1="752.4" x2="1021.2" y2="758.4" stroke="#111" stroke-width="1.5"/>
<text x="1016.2" y="782.4" font-size="20.5" text-anchor="middle">200</text>
<text x="839.5" y="811.4" font-size="20.8" text-anchor="middle">Intrinsic timescale (ms)</text>
<text x="590" y="626.4" font-size="21.2" text-anchor="middle" transform="rotate(-90 590 626.4)">Normalized probability</text>
<path d="M696.53 640.62 C698.28 635.58 704.49 617.46 708.18 606.99 C711.86 596.51 718.01 575.81 721.11 570.76 C724.22 565.72 726.55 571.8 728.87 573.35 C731.2 574.9 733.92 578.2 736.64 581.11 C739.35 584.02 743.49 590.43 746.99 592.76 C750.48 595.08 756.04 594.5 759.92 596.64 C763.8 598.77 769.37 603.88 772.86 606.99 C776.35 610.09 780.1 614.23 783.21 617.34 C786.31 620.44 790.45 624.97 793.56 627.68 C796.66 630.4 800.8 633.51 803.91 635.45 C807.01 637.39 811.15 638.29 814.26 640.62 C817.36 642.95 820.72 648.25 824.61 650.97 C828.49 653.69 835.47 656.02 840.13 658.73 C844.79 661.45 851 666.75 855.65 669.08 C860.31 671.41 866.91 673.09 871.18 674.26 C875.45 675.42 880.23 676.07 884.11 676.84 C887.99 677.62 893.56 677.88 897.05 679.43 C900.54 680.98 904.29 684.09 907.4 687.19 C910.5 690.3 914.64 696.64 917.75 700.13 C920.85 703.62 924.99 707.37 928.1 710.48 C931.2 713.58 934.57 718.11 938.45 720.83 C942.33 723.54 949.31 726.84 953.97 728.59 C958.63 730.34 964.84 731.31 969.5 732.47 C974.15 733.64 980.36 735.38 985.02 736.35 C989.68 737.32 996.27 738.63 1000.54 738.94 C1004.81 739.25 1011.54 738.5 1013.48 738.42" fill="none" stroke="#409a58" stroke-width="2" stroke-linejoin="round"/>
<path d="M696.53 643.21 C698.28 638.55 704.49 621.86 708.18 612.16 C711.86 602.46 717.62 585.12 721.11 578.53 C724.61 571.93 728.36 570.5 731.46 568.18 C734.57 565.85 738.71 563 741.81 563 C744.92 563 748.67 565.85 752.16 568.18 C755.65 570.5 761.22 575.42 765.1 578.53 C768.98 581.63 773.76 585.38 778.03 588.87 C782.3 592.37 789.68 597.93 793.56 601.81 C797.44 605.69 800.8 610.48 803.91 614.75 C807.01 619.02 811.15 625.61 814.26 630.27 C817.36 634.93 821.5 641.91 824.61 645.8 C827.71 649.68 831.07 653.04 834.95 656.14 C838.84 659.25 845.82 663.78 850.48 666.49 C855.14 669.21 862.12 671.15 866 674.26 C869.88 677.36 872.86 683.31 876.35 687.19 C879.84 691.07 885.41 696.64 889.29 700.13 C893.17 703.62 897.96 707.76 902.23 710.48 C906.49 713.2 913.09 716.3 917.75 718.24 C922.41 720.18 928.62 721.86 933.27 723.42 C937.93 724.97 944.14 727.04 948.8 728.59 C953.45 730.14 959.66 732.6 964.32 733.76 C968.98 734.93 975.19 735.58 979.84 736.35 C984.5 737.13 990.32 738.55 995.37 738.94 C1000.41 739.33 1010.76 738.94 1013.48 738.94" fill="none" stroke="#4eaed8" stroke-width="2" stroke-linejoin="round"/>
<path d="M696.53 632.86 C698.28 628.2 704.49 611.9 708.18 601.81 C711.86 591.72 717.62 571.41 721.11 565.59 C724.61 559.77 728.36 563 731.46 563 C734.57 563 738.71 564.81 741.81 565.59 C744.92 566.36 749.06 566.62 752.16 568.18 C755.27 569.73 759.4 573.22 762.51 575.94 C765.61 578.65 769.75 583.18 772.86 586.29 C775.96 589.39 780.1 593.92 783.21 596.64 C786.31 599.35 790.45 602.07 793.56 604.4 C796.66 606.73 800.8 609.44 803.91 612.16 C807.01 614.88 811.15 618.63 814.26 622.51 C817.36 626.39 821.5 633.38 824.61 638.03 C827.71 642.69 831.07 648.51 834.95 653.56 C838.84 658.6 845.82 667.01 850.48 671.67 C855.14 676.33 861.35 680.72 866 684.61 C870.66 688.49 876.87 694.05 881.53 697.54 C886.18 701.03 892.39 704.98 897.05 707.89 C901.71 710.8 907.92 714.62 912.57 716.95 C917.23 719.28 923.44 721.67 928.1 723.42 C932.76 725.16 938.97 727.04 943.62 728.59 C948.28 730.14 954.49 732.21 959.15 733.76 C963.8 735.32 970.01 737.39 974.67 738.94 C979.33 740.49 985.54 742.95 990.19 744.11 C994.85 745.28 1002.23 746.12 1005.72 746.7 C1009.21 747.28 1012.32 747.8 1013.48 747.99" fill="none" stroke="#cfb066" stroke-width="2" stroke-linejoin="round"/>
<path d="M696.53 635.45 C698.28 630.4 704.88 611.9 708.18 601.81 C711.47 591.72 715.81 574.39 718.53 568.18 C721.24 561.97 723.57 558.47 726.29 560.41 C729 562.35 733.53 576.46 736.64 581.11 C739.74 585.77 743.49 589.13 746.99 591.46 C750.48 593.79 756.04 595.47 759.92 596.64 C763.8 597.8 768.98 597.67 772.86 599.22 C776.74 600.78 781.91 603.88 785.8 606.99 C789.68 610.09 795.24 616.04 798.73 619.92 C802.23 623.8 805.98 628.98 809.08 632.86 C812.19 636.74 816.33 642.3 819.43 645.8 C822.54 649.29 826.68 653.82 829.78 656.14 C832.88 658.47 837.02 660.54 840.13 661.32 C843.23 662.1 846.99 660.16 850.48 661.32 C853.97 662.48 859.53 666.75 863.42 669.08 C867.3 671.41 872.47 674.51 876.35 676.84 C880.23 679.17 885.41 681.89 889.29 684.61 C893.17 687.32 898.34 691.85 902.23 694.95 C906.11 698.06 911.28 702.2 915.16 705.3 C919.04 708.41 924.22 712.55 928.1 715.65 C931.98 718.76 937.15 723.48 941.03 726 C944.92 728.53 949.7 730.72 953.97 732.47 C958.24 734.22 964.84 735.9 969.5 737.65 C974.15 739.39 980.36 742.37 985.02 744.11 C989.68 745.86 996.27 748.2 1000.54 749.29 C1004.81 750.38 1011.54 751.05 1013.48 751.36" fill="none" stroke="#6e60b2" stroke-width="2" stroke-linejoin="round"/>
<path d="M696.53 638.03 C698.28 632.6 704.88 612.68 708.18 601.81 C711.47 590.94 715.42 572.19 718.53 565.59 C721.63 558.99 725.77 558.41 728.87 557.83 C731.98 557.24 736.12 560.16 739.22 561.71 C742.33 563.26 746.47 566.04 749.57 568.18 C752.68 570.31 756.43 574 759.92 575.94 C763.42 577.88 768.59 578.78 772.86 581.11 C777.13 583.44 784.5 587.58 788.38 591.46 C792.26 595.34 795.63 601.55 798.73 606.99 C801.84 612.42 805.98 622.25 809.08 627.68 C812.19 633.12 816.33 639.33 819.43 643.21 C822.54 647.09 826.68 651.23 829.78 653.56 C832.88 655.89 837.02 655.24 840.13 658.73 C843.23 662.23 846.99 671.99 850.48 676.84 C853.97 681.69 859.53 687.97 863.42 691.07 C867.3 694.18 872.08 695.41 876.35 697.54 C880.62 699.68 887.99 703.75 891.88 705.3 C895.76 706.86 898.73 707.12 902.23 707.89 C905.72 708.67 911.28 709.31 915.16 710.48 C919.04 711.64 924.22 713.71 928.1 715.65 C931.98 717.59 937.15 721.28 941.03 723.42 C944.92 725.55 949.7 728.14 953.97 729.88 C958.24 731.63 964.84 733.31 969.5 735.06 C974.15 736.8 980.36 739.39 985.02 741.53 C989.68 743.66 996.27 747.81 1000.54 749.29 C1004.81 750.76 1011.54 751.05 1013.48 751.36" fill="none" stroke="#3d62b0" stroke-width="2" stroke-linejoin="round"/>
<path d="M696.53 625.1 C698.98 611.9 709.15 552.26 712.83 537.13 C716.52 521.99 718.32 523.8 721.11 524.19 C723.91 524.58 728.36 534.67 731.46 539.72 C734.57 544.76 738.71 551.62 741.81 557.83 C744.92 564.04 749.06 575.29 752.16 581.11 C755.27 586.93 759.4 593.14 762.51 596.64 C765.61 600.13 769.75 602.07 772.86 604.4 C775.96 606.73 780.1 609.44 783.21 612.16 C786.31 614.88 791.23 619.4 793.56 622.51 C795.89 625.61 797.18 629.37 798.73 632.86 C800.28 636.35 801.97 641.53 803.91 645.8 C805.85 650.06 808.56 658.99 811.67 661.32 C814.77 663.65 821.11 660.93 824.61 661.32 C828.1 661.71 831.85 662.35 834.95 663.91 C838.06 665.46 841.42 669.34 845.3 671.67 C849.18 674 856.17 677.1 860.83 679.43 C865.49 681.76 871.69 684.09 876.35 687.19 C881.01 690.3 887.22 696.25 891.88 700.13 C896.53 704.01 902.74 709.96 907.4 713.07 C912.06 716.17 918.27 718.89 922.92 720.83 C927.58 722.77 933.79 724.45 938.45 726 C943.1 727.55 949.31 729.62 953.97 731.18 C958.63 732.73 964.84 734.02 969.5 736.35 C974.15 738.68 980.36 744.57 985.02 746.7 C989.68 748.84 996.27 749.88 1000.54 750.58 C1004.81 751.28 1011.54 751.24 1013.48 751.36" fill="none" stroke="#dc8ac6" stroke-width="2" stroke-linejoin="round"/>
<path d="M696.53 632.86 C697.89 628.2 703.07 610.35 705.59 601.81 C708.11 593.27 711.02 582.15 713.35 575.94 C715.68 569.73 718.59 563.71 721.11 560.41 C723.64 557.12 727.45 555.11 730.17 553.95 C732.88 552.78 736.31 551.68 739.22 552.65 C742.13 553.62 746.47 556.92 749.57 560.41 C752.68 563.91 756.82 571.28 759.92 575.94 C763.03 580.6 766.78 588.75 770.27 591.46 C773.76 594.18 780.1 593.86 783.21 594.05 C786.31 594.24 788.64 591.2 790.97 592.76 C793.3 594.31 796.02 599.94 798.73 604.4 C801.45 608.86 805.98 617.08 809.08 622.51 C812.19 627.94 816.33 636.35 819.43 640.62 C822.54 644.89 826.68 648.25 829.78 650.97 C832.88 653.69 837.02 655.63 840.13 658.73 C843.23 661.84 846.99 667.79 850.48 671.67 C853.97 675.55 859.53 681.11 863.42 684.61 C867.3 688.1 872.08 691.85 876.35 694.95 C880.62 698.06 887.22 702.2 891.88 705.3 C896.53 708.41 902.74 713.32 907.4 715.65 C912.06 717.98 918.65 719.86 922.92 720.83 C927.19 721.8 931.98 721.54 935.86 722.12 C939.74 722.7 945.3 723.74 948.8 724.71 C952.29 725.68 956.04 727.23 959.15 728.59 C962.25 729.95 966.39 731.82 969.5 733.76 C972.6 735.71 976.74 739 979.84 741.53 C982.95 744.05 987.09 749.03 990.19 750.58 C993.3 752.13 998.99 751.68 1000.54 751.88" fill="none" stroke="#c93842" stroke-width="2" stroke-linejoin="round"/>
<path d="M696.53 592.76 C698.98 581.62 709.15 530.61 712.83 518.5 C716.52 506.39 718.51 510.79 721.11 512.03 C723.71 513.27 727.45 521.46 730.17 526.78 C732.88 532.1 736.7 541.66 739.22 547.48 C741.75 553.3 744.27 558.99 746.99 565.59 C749.7 572.19 754.23 586.42 757.34 591.46 C760.44 596.51 764.58 596.9 767.68 599.22 C770.79 601.55 774.93 604.66 778.03 606.99 C781.14 609.31 785.28 612.03 788.38 614.75 C791.49 617.46 795.63 621.99 798.73 625.1 C801.84 628.2 805.98 632.34 809.08 635.45 C812.19 638.55 816.33 642.69 819.43 645.8 C822.54 648.9 826.68 653.04 829.78 656.14 C832.88 659.25 837.02 662.61 840.13 666.49 C843.23 670.38 847.37 678.33 850.48 682.02 C853.58 685.71 856.95 688.75 860.83 691.07 C864.71 693.4 871.69 695.21 876.35 697.54 C881.01 699.87 887.22 703.88 891.88 706.6 C896.53 709.31 902.74 713.13 907.4 715.65 C912.06 718.18 918.27 721.28 922.92 723.42 C927.58 725.55 933.79 727.75 938.45 729.88 C943.1 732.02 949.31 735.32 953.97 737.65 C958.63 739.97 964.84 743.86 969.5 745.41 C974.15 746.96 980.36 747.41 985.02 747.99 C989.68 748.58 996.27 749.09 1000.54 749.29 C1004.81 749.48 1011.54 749.29 1013.48 749.29" fill="none" stroke="#e97a3c" stroke-width="2" stroke-linejoin="round"/>
<text x="1075" y="436" font-size="32" font-weight="bold" style="stroke:none">g</text>
<line x1="1180.3" y1="458.2" x2="1180.3" y2="752.4" stroke="#111" stroke-width="1.5"/>
<line x1="1175.3" y1="459" x2="1180.3" y2="459" stroke="#111" stroke-width="1.5"/>
<text x="1171" y="464.6" font-size="20.5" text-anchor="end">100</text>
<line x1="1175.3" y1="507.84" x2="1180.3" y2="507.84" stroke="#111" stroke-width="1.5"/>
<text x="1171" y="513.44" font-size="20.5" text-anchor="end">90</text>
<line x1="1175.3" y1="556.68" x2="1180.3" y2="556.68" stroke="#111" stroke-width="1.5"/>
<text x="1171" y="562.28" font-size="20.5" text-anchor="end">80</text>
<line x1="1175.3" y1="605.52" x2="1180.3" y2="605.52" stroke="#111" stroke-width="1.5"/>
<text x="1171" y="611.12" font-size="20.5" text-anchor="end">70</text>
<line x1="1175.3" y1="654.36" x2="1180.3" y2="654.36" stroke="#111" stroke-width="1.5"/>
<text x="1171" y="659.96" font-size="20.5" text-anchor="end">60</text>
<line x1="1175.3" y1="703.2" x2="1180.3" y2="703.2" stroke="#111" stroke-width="1.5"/>
<text x="1171" y="708.8" font-size="20.5" text-anchor="end">50</text>
<line x1="1180.3" y1="752.4" x2="1547.7" y2="752.4" stroke="#111" stroke-width="1.5"/>
<line x1="1196.6" y1="752.4" x2="1196.6" y2="757.4" stroke="#111" stroke-width="1.5"/>
<text x="1196.6" y="779" font-size="20.5" text-anchor="middle">−0.6</text>
<line x1="1257.2" y1="752.4" x2="1257.2" y2="757.4" stroke="#111" stroke-width="1.5"/>
<text x="1257.2" y="779" font-size="20.5" text-anchor="middle">−0.4</text>
<line x1="1317.4" y1="752.4" x2="1317.4" y2="757.4" stroke="#111" stroke-width="1.5"/>
<text x="1317.4" y="779" font-size="20.5" text-anchor="middle">−0.2</text>
<line x1="1377.7" y1="752.4" x2="1377.7" y2="757.4" stroke="#111" stroke-width="1.5"/>
<text x="1377.7" y="779" font-size="20.5" text-anchor="middle">0.0</text>
<line x1="1438.3" y1="752.4" x2="1438.3" y2="757.4" stroke="#111" stroke-width="1.5"/>
<text x="1438.3" y="779" font-size="20.5" text-anchor="middle">0.2</text>
<line x1="1498.5" y1="752.4" x2="1498.5" y2="757.4" stroke="#111" stroke-width="1.5"/>
<text x="1498.5" y="779" font-size="20.5" text-anchor="middle">0.4</text>
<path d="M1177.2 729.72 L1183.2 726.38 L1183.2 732.68 L1177.2 736.02 Z" fill="#fff"/>
<line x1="1168.5" y1="734.55" x2="1191.9" y2="721.55" stroke="#0a0a0a" stroke-width="1.7"/>
<line x1="1168.5" y1="740.85" x2="1191.9" y2="727.85" stroke="#0a0a0a" stroke-width="1.7"/>
<text x="1359.5" y="812.7" font-size="20.8" text-anchor="middle">Anatomical hierarchy score</text>
<text x="1123.9" y="626.4" font-size="20.6" text-anchor="middle" transform="rotate(-90 1123.9 626.4)">Intrinsic timescale (ms)</text>
<line x1="1193.2" y1="601.8" x2="1528.3" y2="619.4" stroke="#757575" stroke-width="1.8" stroke-dasharray="7 3.5"/>
<line x1="1222.22" y1="607" x2="1222.22" y2="647" stroke="#dc8ac6" stroke-width="2" stroke-opacity="0.85"/>
<circle cx="1222.22" cy="626.4" r="2.7" fill="#dc8ac6"/>
<line x1="1269.92" y1="582.4" x2="1269.92" y2="608.3" stroke="#6e60b2" stroke-width="2" stroke-opacity="0.85"/>
<circle cx="1269.92" cy="595.3" r="2.7" fill="#6e60b2"/>
<line x1="1349.62" y1="585" x2="1349.62" y2="623.8" stroke="#3d62b0" stroke-width="2" stroke-opacity="0.85"/>
<circle cx="1349.62" cy="604.4" r="2.7" fill="#3d62b0"/>
<line x1="1359.89" y1="592" x2="1359.89" y2="624.6" stroke="#4eaed8" stroke-width="2" stroke-opacity="0.85"/>
<circle cx="1359.89" cy="609" r="2.7" fill="#4eaed8"/>
<line x1="1409.4" y1="557.8" x2="1409.4" y2="592" stroke="#409a58" stroke-width="2" stroke-opacity="0.85"/>
<circle cx="1409.4" cy="575" r="2.7" fill="#409a58"/>
<line x1="1423.59" y1="596.6" x2="1423.59" y2="632.9" stroke="#cfb066" stroke-width="2" stroke-opacity="0.85"/>
<circle cx="1423.59" cy="614.2" r="2.7" fill="#cfb066"/>
<line x1="1476.42" y1="625" x2="1476.42" y2="666.5" stroke="#e97a3c" stroke-width="2" stroke-opacity="0.85"/>
<circle cx="1476.42" cy="645.8" r="2.7" fill="#e97a3c"/>
<line x1="1510.84" y1="607" x2="1510.84" y2="638" stroke="#c93842" stroke-width="2" stroke-opacity="0.85"/>
<circle cx="1510.84" cy="622.5" r="2.7" fill="#c93842"/>
<text x="1340.7" y="497" word-spacing="-1.3" font-size="21.4" xml:space="preserve"><tspan font-style="italic">r</tspan><tspan font-style="italic" font-size="13.27" dy="6.8">P</tspan><tspan dy="-6.8"> = −0.24; </tspan><tspan font-style="italic">P</tspan><tspan font-style="italic" font-size="13.27" dy="6.8">P</tspan><tspan dy="-6.8"> = 0.57</tspan></text>
<text x="1340.7" y="521.6" word-spacing="-1.3" font-size="21.4" xml:space="preserve"><tspan font-style="italic">r</tspan><tspan font-style="italic" font-size="13.27" dy="6.8">S</tspan><tspan dy="-6.8"> = −0.31; </tspan><tspan font-style="italic">P</tspan><tspan font-style="italic" font-size="13.27" dy="6.8">S</tspan><tspan dy="-6.8"> = 0.47</tspan></text>
<text x="83.5" y="894" font-size="32" font-weight="bold" style="stroke:none">i</text>
<line x1="75" y1="1208.7" x2="423" y2="1208.7" stroke="#222" stroke-width="1.5"/>
<line x1="91.3" y1="1208.7" x2="91.3" y2="1215.2" stroke="#222" stroke-width="1.5"/>
<text x="91.3" y="1237.2" font-size="20.5" text-anchor="middle">0.1</text>
<line x1="144.9" y1="1208.7" x2="144.9" y2="1215.2" stroke="#222" stroke-width="1.5"/>
<line x1="198.2" y1="1208.7" x2="198.2" y2="1215.2" stroke="#222" stroke-width="1.5"/>
<text x="198.2" y="1237.2" font-size="20.5" text-anchor="middle">1</text>
<line x1="252.3" y1="1208.7" x2="252.3" y2="1215.2" stroke="#222" stroke-width="1.5"/>
<line x1="306" y1="1208.7" x2="306" y2="1215.2" stroke="#222" stroke-width="1.5"/>
<text x="306" y="1237.2" font-size="20.5" text-anchor="middle">10</text>
<line x1="359.6" y1="1208.7" x2="359.6" y2="1215.2" stroke="#222" stroke-width="1.5"/>
<line x1="413.2" y1="1208.7" x2="413.2" y2="1215.2" stroke="#222" stroke-width="1.5"/>
<text x="413.2" y="1237.2" font-size="20.5" text-anchor="middle">100</text>
<text x="258.1" y="1267" font-size="20.8" text-anchor="middle">Firing rate (Hz)</text>
<path d="M86.68 1206.11 C91.14 1205.72 108.09 1205.07 116.43 1203.52 C124.77 1201.97 135.71 1198.28 142.3 1195.76 C148.9 1193.23 155.37 1189.61 160.41 1186.7 C165.46 1183.79 172.06 1179.46 175.94 1176.35 C179.82 1173.25 183.18 1169.88 186.29 1166 C189.39 1162.12 193.53 1155.91 196.64 1150.48 C199.74 1145.05 203.88 1137.15 206.99 1129.78 C210.09 1122.41 214.23 1110.63 217.34 1101.32 C220.44 1092.01 224.97 1077.39 227.68 1067.68 C230.4 1057.98 233.12 1044.4 235.45 1036.64 C237.77 1028.87 241.07 1020.21 243.21 1015.94 C245.34 1011.67 247.74 1009.15 249.68 1008.18 C251.62 1007.21 254.4 1008.31 256.14 1009.47 C257.89 1010.63 259.38 1012.64 261.32 1015.94 C263.26 1019.24 266.75 1027.19 269.08 1031.46 C271.41 1035.73 274.51 1040.52 276.84 1044.4 C279.17 1048.28 282.28 1053.45 284.61 1057.34 C286.93 1061.22 290.04 1065.61 292.37 1070.27 C294.7 1074.93 297.8 1082.56 300.13 1088.38 C302.46 1094.2 305.56 1103.26 307.89 1109.08 C310.22 1114.9 313.32 1122.54 315.65 1127.19 C317.98 1131.85 321.09 1135.47 323.42 1140.13 C325.74 1144.79 328.85 1153.2 331.18 1158.24 C333.51 1163.29 336.61 1169.5 338.94 1173.76 C341.27 1178.03 343.98 1183.21 346.7 1186.7 C349.42 1190.19 353.56 1194.72 357.05 1197.05 C360.54 1199.38 365.33 1201.06 369.99 1202.23 C374.64 1203.39 381.89 1204.23 388.1 1204.81 C394.31 1205.39 407.89 1205.91 411.38 1206.11" fill="none" stroke="#3d62b0" stroke-width="2" stroke-linejoin="round"/>
<path d="M86.68 1206.11 C91.14 1205.72 108.09 1204.95 116.43 1203.52 C124.77 1202.08 135.71 1198.86 142.3 1196.53 C148.9 1194.2 155.37 1190.83 160.41 1187.99 C165.46 1185.16 172.06 1180.75 175.94 1177.65 C179.82 1174.54 183.18 1171.18 186.29 1167.3 C189.39 1163.42 193.53 1157.21 196.64 1151.77 C199.74 1146.34 203.88 1138.25 206.99 1131.07 C210.09 1123.89 214.23 1113.03 217.34 1103.91 C220.44 1094.79 224.97 1079.78 227.68 1070.27 C230.4 1060.76 233.12 1047.89 235.45 1040.52 C237.77 1033.14 241.07 1025.19 243.21 1021.11 C245.34 1017.04 247.93 1014.71 249.68 1013.35 C251.42 1011.99 253.1 1011.67 254.85 1012.06 C256.6 1012.45 259.18 1013.42 261.32 1015.94 C263.45 1018.46 266.75 1024.61 269.08 1028.87 C271.41 1033.14 274.51 1040.52 276.84 1044.4 C279.17 1048.28 281.5 1050.87 284.61 1054.75 C287.71 1058.63 293.66 1065.61 297.54 1070.27 C301.42 1074.93 306.6 1077.65 310.48 1085.8 C314.36 1093.95 319.53 1112.96 323.42 1124.61 C327.3 1136.25 332.47 1154.49 336.35 1163.42 C340.23 1172.34 345.41 1179.26 349.29 1184.11 C353.17 1188.97 358.34 1193.12 362.23 1195.76 C366.11 1198.4 367.79 1200.16 375.16 1201.71 C382.54 1203.26 405.95 1205.45 411.38 1206.11" fill="none" stroke="#cfb066" stroke-width="2" stroke-linejoin="round"/>
<path d="M86.68 1206.11 C91.14 1205.83 108.09 1205.46 116.43 1204.29 C124.77 1203.13 134.54 1201.37 142.3 1198.34 C150.06 1195.32 161.58 1188.58 168.18 1184.11 C174.77 1179.65 181.24 1174.02 186.29 1168.59 C191.33 1163.16 197.54 1155.27 201.81 1147.89 C206.08 1140.52 211.25 1128.36 214.75 1119.43 C218.24 1110.5 222.38 1097.7 225.1 1088.38 C227.81 1079.07 230.53 1064.71 232.86 1057.34 C235.19 1049.96 238.1 1042.41 240.62 1039.22 C243.14 1036.04 246.96 1036.43 249.68 1036.12 C252.39 1035.81 256.21 1036.3 258.73 1037.15 C261.25 1038.01 264.17 1039.56 266.49 1041.81 C268.82 1044.06 271.93 1049.06 274.26 1052.16 C276.58 1055.27 279.69 1060.18 282.02 1062.51 C284.35 1064.84 287.06 1066.52 289.78 1067.68 C292.5 1068.85 297.41 1068.72 300.13 1070.27 C302.85 1071.82 305.56 1074.54 307.89 1078.03 C310.22 1081.53 313.32 1088.12 315.65 1093.56 C317.98 1098.99 321.09 1107.27 323.42 1114.26 C325.74 1121.24 328.85 1132.76 331.18 1140.13 C333.51 1147.5 336.22 1157.21 338.94 1163.42 C341.66 1169.62 345.8 1176.87 349.29 1181.53 C352.78 1186.18 358.34 1191.55 362.23 1194.46 C366.11 1197.37 367.79 1199.18 375.16 1200.93 C382.54 1202.68 405.95 1205.33 411.38 1206.11" fill="none" stroke="#6e60b2" stroke-width="2" stroke-linejoin="round"/>
<path d="M86.68 1206.11 C91.14 1205.52 108.47 1204.17 116.43 1202.23 C124.39 1200.28 133.89 1195.3 139.72 1193.17 C145.54 1191.03 150.97 1189.35 155.24 1187.99 C159.51 1186.64 164.29 1185.86 168.18 1184.11 C172.06 1182.37 176.84 1180.23 181.11 1176.35 C185.38 1172.47 192.76 1164.06 196.64 1158.24 C200.52 1152.42 203.88 1144.53 206.99 1137.54 C210.09 1130.56 214.23 1119.82 217.34 1111.67 C220.44 1103.52 224.97 1090.58 227.68 1083.21 C230.4 1075.83 233.12 1067.94 235.45 1062.51 C237.77 1057.08 240.49 1049.31 243.21 1046.99 C245.92 1044.66 250.45 1046.68 253.56 1046.99 C256.66 1047.3 260.8 1048.86 263.91 1049.06 C267.01 1049.25 271.15 1047.43 274.26 1048.28 C277.36 1049.13 281.5 1053 284.61 1054.75 C287.71 1056.49 291.46 1058.76 294.95 1059.92 C298.45 1061.09 304.79 1058.63 307.89 1062.51 C311 1066.39 313.32 1077.65 315.65 1085.8 C317.98 1093.95 321.09 1107.92 323.42 1116.84 C325.74 1125.77 328.85 1137.93 331.18 1145.3 C333.51 1152.68 336.22 1160.57 338.94 1166 C341.66 1171.44 345.8 1177.26 349.29 1181.53 C352.78 1185.8 358.34 1191.55 362.23 1194.46 C366.11 1197.37 367.79 1199.18 375.16 1200.93 C382.54 1202.68 405.95 1205.33 411.38 1206.11" fill="none" stroke="#4eaed8" stroke-width="2" stroke-linejoin="round"/>
<path d="M86.68 1206.11 C91.14 1205.91 108.09 1205.98 116.43 1204.81 C124.77 1203.65 134.54 1201.06 142.3 1198.34 C150.06 1195.63 161.58 1190.39 168.18 1186.7 C174.77 1183.01 181.24 1178.03 186.29 1173.76 C191.33 1169.5 197.93 1163.67 201.81 1158.24 C205.69 1152.81 209.06 1145.3 212.16 1137.54 C215.27 1129.78 219.4 1116.2 222.51 1106.49 C225.61 1096.79 229.75 1081.79 232.86 1072.86 C235.96 1063.93 240.1 1053.58 243.21 1046.99 C246.31 1040.39 250.45 1033.22 253.56 1028.87 C256.66 1024.53 261.19 1019.95 263.91 1018.01 C266.62 1016.07 269.34 1015.86 271.67 1015.94 C274 1016.02 277.1 1016.97 279.43 1018.53 C281.76 1020.08 284.86 1023.18 287.19 1026.29 C289.52 1029.39 292.63 1034.95 294.95 1039.22 C297.28 1043.49 300.39 1048.93 302.72 1054.75 C305.05 1060.57 308.15 1070.27 310.48 1078.03 C312.81 1085.8 315.91 1098.34 318.24 1106.49 C320.57 1114.64 323.67 1124.99 326 1132.37 C328.33 1139.74 331.44 1149.44 333.76 1155.65 C336.09 1161.86 338.81 1168.72 341.53 1173.76 C344.24 1178.81 348.77 1185.6 351.88 1189.29 C354.98 1192.98 358.73 1196.4 362.23 1198.34 C365.72 1200.28 367.79 1201.06 375.16 1202.23 C382.54 1203.39 405.95 1205.52 411.38 1206.11" fill="none" stroke="#e97a3c" stroke-width="2" stroke-linejoin="round"/>
<path d="M86.68 1206.11 C91.14 1205.91 108.09 1205.59 116.43 1204.81 C124.77 1204.04 134.54 1202.87 142.3 1200.93 C150.06 1198.99 161.58 1195.17 168.18 1191.88 C174.77 1188.58 181.24 1183.6 186.29 1178.94 C191.33 1174.28 197.54 1167.04 201.81 1160.83 C206.08 1154.62 211.25 1144.92 214.75 1137.54 C218.24 1130.17 221.99 1119.82 225.1 1111.67 C228.2 1103.52 232.34 1090.19 235.45 1083.21 C238.55 1076.22 242.69 1069.75 245.8 1065.1 C248.9 1060.44 253.04 1055.85 256.14 1052.16 C259.25 1048.47 263.2 1043.04 266.49 1040.52 C269.79 1037.99 275.03 1035.73 278.14 1035.34 C281.24 1034.95 284.67 1036.57 287.19 1037.93 C289.72 1039.29 292.63 1041.88 294.95 1044.4 C297.28 1046.92 300.39 1050.48 302.72 1054.75 C305.05 1059.02 308.15 1066.65 310.48 1072.86 C312.81 1079.07 315.91 1088.77 318.24 1096.14 C320.57 1103.52 323.67 1114.64 326 1122.02 C328.33 1129.39 331.44 1139.09 333.76 1145.3 C336.09 1151.51 338.81 1157.98 341.53 1163.42 C344.24 1168.85 348.77 1177.06 351.88 1181.53 C354.98 1185.99 358.73 1190.26 362.23 1193.17 C365.72 1196.08 371.28 1199.18 375.16 1200.93 C379.04 1202.68 382.66 1204.04 388.1 1204.81 C393.53 1205.59 407.89 1205.91 411.38 1206.11" fill="none" stroke="#c93842" stroke-width="2" stroke-linejoin="round"/>
<path d="M86.68 1206.11 C91.14 1205.72 108.09 1204.49 116.43 1203.52 C124.77 1202.55 135.71 1200.8 142.3 1199.64 C148.9 1198.47 154.59 1197.12 160.41 1195.76 C166.24 1194.4 175.68 1191.94 181.11 1190.58 C186.55 1189.22 192.76 1188.06 196.64 1186.7 C200.52 1185.34 203.88 1184.24 206.99 1181.53 C210.09 1178.81 214.23 1173.25 217.34 1168.59 C220.44 1163.93 224.58 1157.08 227.68 1150.48 C230.79 1143.88 234.93 1133.14 238.03 1124.61 C241.14 1116.07 245.28 1103.26 248.38 1093.56 C251.49 1083.86 255.63 1070.79 258.73 1059.92 C261.84 1049.06 266.36 1031.2 269.08 1021.11 C271.8 1011.02 274.51 1001.58 276.84 992.65 C279.17 983.73 282.47 968.78 284.61 961.6 C286.74 954.42 289.33 947.12 291.07 944.79 C292.82 942.46 294.5 943.17 296.25 946.08 C297.99 948.99 300.58 956.43 302.72 964.19 C304.85 971.95 308.15 985.41 310.48 997.83 C312.81 1010.25 316.11 1031.85 318.24 1046.99 C320.38 1062.12 322.77 1084.76 324.71 1098.73 C326.65 1112.7 329.04 1129.26 331.18 1140.13 C333.31 1151 336.61 1163.8 338.94 1171.18 C341.27 1178.55 343.98 1185.41 346.7 1189.29 C349.42 1193.17 353.95 1195.3 357.05 1197.05 C360.16 1198.8 362.74 1199.84 367.4 1200.93 C372.06 1202.02 381.5 1203.52 388.1 1204.29 C394.7 1205.07 407.89 1205.83 411.38 1206.11" fill="none" stroke="#409a58" stroke-width="2" stroke-linejoin="round"/>
<path d="M86.68 1206.11 C91.14 1205.91 108.09 1205.2 116.43 1204.81 C124.77 1204.42 135.71 1203.91 142.3 1203.52 C148.9 1203.13 155.37 1202.3 160.41 1202.23 C165.46 1202.15 172.06 1203.39 175.94 1203 C179.82 1202.61 183.18 1200.72 186.29 1199.64 C189.39 1198.55 193.53 1196.92 196.64 1195.76 C199.74 1194.59 203.88 1193.43 206.99 1191.88 C210.09 1190.32 214.23 1188.12 217.34 1185.41 C220.44 1182.69 224.58 1177.45 227.68 1173.76 C230.79 1170.08 235.32 1164.71 238.03 1160.83 C240.75 1156.95 243.47 1152.94 245.8 1147.89 C248.12 1142.85 251.23 1134.18 253.56 1127.19 C255.89 1120.21 258.99 1109.47 261.32 1101.32 C263.65 1093.17 266.75 1081.79 269.08 1072.86 C271.41 1063.93 274.51 1051.9 276.84 1041.81 C279.17 1031.72 282.28 1016.46 284.61 1005.59 C286.93 994.72 290.04 979.84 292.37 969.37 C294.7 958.89 298.38 942.33 300.13 935.73 C301.88 929.13 302.46 927.24 304.01 925.38 C305.56 923.52 308.54 920.98 310.48 923.31 C312.42 925.64 315.01 933.61 316.95 940.91 C318.89 948.2 321.47 961.09 323.42 971.95 C325.36 982.82 327.94 999.77 329.88 1013.35 C331.82 1026.93 334.41 1047.76 336.35 1062.51 C338.29 1077.26 340.88 1098.09 342.82 1111.67 C344.76 1125.25 347.35 1143.36 349.29 1153.07 C351.23 1162.77 353.82 1170.92 355.76 1176.35 C357.7 1181.79 359.31 1185.8 362.23 1189.29 C365.14 1192.78 371.28 1197.5 375.16 1199.64 C379.04 1201.77 382.66 1202.55 388.1 1203.52 C393.53 1204.49 407.89 1205.72 411.38 1206.11" fill="none" stroke="#dc8ac6" stroke-width="2" stroke-linejoin="round"/>
<text x="478.5" y="894" font-size="32" font-weight="bold" style="stroke:none">j</text>
<line x1="568.5" y1="906.8" x2="568.5" y2="1208.6" stroke="#111" stroke-width="1.8"/>
<line x1="563.5" y1="953.5" x2="568.5" y2="953.5" stroke="#111" stroke-width="1.8"/>
<text x="559.8" y="959.1" font-size="21.5" text-anchor="end">0.9</text>
<line x1="563.5" y1="1020.3" x2="568.5" y2="1020.3" stroke="#111" stroke-width="1.8"/>
<text x="559.8" y="1025.9" font-size="21.5" text-anchor="end">0.8</text>
<line x1="563.5" y1="1087.4" x2="568.5" y2="1087.4" stroke="#111" stroke-width="1.8"/>
<text x="559.8" y="1093" font-size="21.5" text-anchor="end">0.7</text>
<line x1="563.5" y1="1153.7" x2="568.5" y2="1153.7" stroke="#111" stroke-width="1.8"/>
<text x="559.8" y="1159.3" font-size="21.5" text-anchor="end">0.6</text>
<line x1="568.5" y1="1208.6" x2="916.4" y2="1208.6" stroke="#111" stroke-width="1.8"/>
<line x1="590.9" y1="1208.6" x2="590.9" y2="1213.6" stroke="#111" stroke-width="1.8"/>
<text x="587.9" y="1236.5" font-size="20.5" text-anchor="middle">−0.75</text>
<line x1="649" y1="1208.6" x2="649" y2="1213.6" stroke="#111" stroke-width="1.8"/>
<text x="646" y="1236.5" font-size="20.5" text-anchor="middle">−0.50</text>
<line x1="706.9" y1="1208.6" x2="706.9" y2="1213.6" stroke="#111" stroke-width="1.8"/>
<text x="703.9" y="1236.5" font-size="20.5" text-anchor="middle">−0.25</text>
<line x1="764.7" y1="1208.6" x2="764.7" y2="1213.6" stroke="#111" stroke-width="1.8"/>
<text x="762.7" y="1236.5" font-size="20.5" text-anchor="middle">0.00</text>
<line x1="822.8" y1="1208.6" x2="822.8" y2="1213.6" stroke="#111" stroke-width="1.8"/>
<text x="820.8" y="1236.5" font-size="20.5" text-anchor="middle">0.25</text>
<line x1="881" y1="1208.6" x2="881" y2="1213.6" stroke="#111" stroke-width="1.8"/>
<text x="879" y="1236.5" font-size="20.5" text-anchor="middle">0.50</text>
<path d="M564.9 1180.82 L570.9 1177.97 L570.9 1184.78 L564.9 1187.62 Z" fill="#fff"/>
<line x1="551.9" y1="1187" x2="583.9" y2="1171.8" stroke="#0a0a0a" stroke-width="1.9"/>
<line x1="551.9" y1="1193.8" x2="583.9" y2="1178.6" stroke="#0a0a0a" stroke-width="1.9"/>
<text x="740.5" y="1264" font-size="20.8" text-anchor="middle">Anatomical hierarchy score</text>
<text x="511.5" y="1083" text-anchor="middle" font-size="21" transform="rotate(-90 511.5 1083)">log<tspan font-size="13" dy="5">10</tspan><tspan dy="-5"> Firing rate (Hz)</tspan></text>
<line x1="590.9" y1="1035.8" x2="881.5" y2="1143" stroke="#757575" stroke-width="2.2" stroke-dasharray="9 4.5"/>
<line x1="645.17" y1="924.8" x2="645.17" y2="951.7" stroke="#dc8ac6" stroke-width="2" stroke-opacity="0.85"/>
<circle cx="645.17" cy="937.8" r="2.8" fill="#dc8ac6"/>
<line x1="681.84" y1="1140.5" x2="681.84" y2="1160.5" stroke="#6e60b2" stroke-width="2" stroke-opacity="0.85"/>
<circle cx="681.84" cy="1150.5" r="2.8" fill="#6e60b2"/>
<line x1="743.11" y1="1163.6" x2="743.11" y2="1187.1" stroke="#3d62b0" stroke-width="2" stroke-opacity="0.85"/>
<circle cx="743.11" cy="1175.4" r="2.8" fill="#3d62b0"/>
<line x1="751.01" y1="1109" x2="751.01" y2="1133" stroke="#4eaed8" stroke-width="2" stroke-opacity="0.85"/>
<circle cx="751.01" cy="1121" r="2.8" fill="#4eaed8"/>
<line x1="789.07" y1="1035.8" x2="789.07" y2="1058.9" stroke="#409a58" stroke-width="2" stroke-opacity="0.85"/>
<circle cx="789.07" cy="1047" r="2.8" fill="#409a58"/>
<line x1="799.98" y1="1150.5" x2="799.98" y2="1171.2" stroke="#cfb066" stroke-width="2" stroke-opacity="0.85"/>
<circle cx="799.98" cy="1160" r="2.8" fill="#cfb066"/>
<line x1="840.6" y1="1097.4" x2="840.6" y2="1128" stroke="#e97a3c" stroke-width="2" stroke-opacity="0.85"/>
<circle cx="840.6" cy="1111.3" r="2.8" fill="#e97a3c"/>
<line x1="867.06" y1="1086.4" x2="867.06" y2="1109" stroke="#c93842" stroke-width="2" stroke-opacity="0.85"/>
<circle cx="867.06" cy="1097.4" r="2.8" fill="#c93842"/>
<text x="726.8" y="959.2" word-spacing="-1.3" font-size="21.4" xml:space="preserve"><tspan font-style="italic">r</tspan><tspan font-style="italic" font-size="13.27" dy="6.8">P</tspan><tspan dy="-6.8"> = −0.36; </tspan><tspan font-style="italic">P</tspan><tspan font-style="italic" font-size="13.27" dy="6.8">P</tspan><tspan dy="-6.8"> = 0.38</tspan></text>
<text x="726.8" y="984.6" word-spacing="-1.3" font-size="21.4" xml:space="preserve"><tspan font-style="italic">r</tspan><tspan font-style="italic" font-size="13.27" dy="6.8">S</tspan><tspan dy="-6.8"> = 0.02; </tspan><tspan font-style="italic">P</tspan><tspan font-style="italic" font-size="13.27" dy="6.8">S</tspan><tspan dy="-6.8"> = 0.96</tspan></text>
<text x="983" y="894" font-size="32" font-weight="bold" style="stroke:none">k</text>
<circle cx="1145.8" cy="873.5" r="5.2" fill="#1a1a1a"/>
<text x="1160.3" y="879.8" font-size="20.6" font-weight="bold">Hit</text>
<circle cx="1359.8" cy="873" r="4.2" fill="#fff" stroke="#8a8a8a" stroke-width="2.5"/>
<text x="1373" y="879.8" font-size="20.2" font-weight="bold">Miss</text>
<text x="1100.7" y="905.9" word-spacing="-1.3" font-size="21.4" xml:space="preserve"><tspan font-style="italic">r</tspan><tspan font-style="italic" font-size="13.27" dy="6.8">P</tspan><tspan dy="-6.8"> = 0.85; </tspan><tspan font-style="italic">P</tspan><tspan font-style="italic" font-size="13.27" dy="6.8">P</tspan><tspan dy="-6.8"> = 0.007</tspan></text>
<text x="1100.7" y="930.9" word-spacing="-1.3" font-size="21.4" xml:space="preserve"><tspan font-style="italic">r</tspan><tspan font-style="italic" font-size="13.27" dy="6.8">S</tspan><tspan dy="-6.8"> = 0.86; </tspan><tspan font-style="italic">P</tspan><tspan font-style="italic" font-size="13.27" dy="6.8">S</tspan><tspan dy="-6.8"> = 0.007</tspan></text>
<text x="1298.4" y="904.6" word-spacing="-1.3" font-size="21.4" xml:space="preserve"><tspan font-style="italic">r</tspan><tspan font-style="italic" font-size="13.27" dy="6.8">P</tspan><tspan dy="-6.8"> = 0.51; </tspan><tspan font-style="italic">P</tspan><tspan font-style="italic" font-size="13.27" dy="6.8">P</tspan><tspan dy="-6.8"> = 0.197</tspan></text>
<text x="1298.4" y="928.3" word-spacing="-1.3" font-size="21.4" xml:space="preserve"><tspan font-style="italic">r</tspan><tspan font-style="italic" font-size="13.27" dy="6.8">S</tspan><tspan dy="-6.8"> = 0.31; </tspan><tspan font-style="italic">P</tspan><tspan font-style="italic" font-size="13.27" dy="6.8">S</tspan><tspan dy="-6.8"> = 0.456</tspan></text>
<line x1="1065.2" y1="929" x2="1065.2" y2="1240.5" stroke="#555" stroke-width="1.4"/>
<line x1="1060.2" y1="980.4" x2="1065.2" y2="980.4" stroke="#555" stroke-width="1.4"/>
<text x="1053.5" y="986" font-size="20.5" text-anchor="end">0.3</text>
<line x1="1060.2" y1="1067.1" x2="1065.2" y2="1067.1" stroke="#555" stroke-width="1.4"/>
<text x="1053.5" y="1072.7" font-size="20.5" text-anchor="end">0.2</text>
<line x1="1060.2" y1="1153.6" x2="1065.2" y2="1153.6" stroke="#555" stroke-width="1.4"/>
<text x="1053.5" y="1159.2" font-size="20.5" text-anchor="end">0.1</text>
<line x1="1060.2" y1="1240.5" x2="1065.2" y2="1240.5" stroke="#555" stroke-width="1.4"/>
<text x="1053.5" y="1246.1" font-size="20.5" text-anchor="end">0</text>
<line x1="1062" y1="1240.5" x2="1481" y2="1240.5" stroke="#555" stroke-width="1.4"/>
<line x1="1130" y1="1240.5" x2="1130" y2="1245.5" stroke="#555" stroke-width="1.4"/>
<text x="1122" y="1268.2" font-size="20.5" text-anchor="middle">−0.4</text>
<line x1="1209" y1="1240.5" x2="1209" y2="1245.5" stroke="#555" stroke-width="1.4"/>
<text x="1201" y="1268.2" font-size="20.5" text-anchor="middle">−0.2</text>
<line x1="1288" y1="1240.5" x2="1288" y2="1245.5" stroke="#555" stroke-width="1.4"/>
<text x="1279.5" y="1268.2" font-size="20.5" text-anchor="middle">0.0</text>
<line x1="1366.9" y1="1240.5" x2="1366.9" y2="1245.5" stroke="#555" stroke-width="1.4"/>
<text x="1358.4" y="1268.2" font-size="20.5" text-anchor="middle">0.2</text>
<line x1="1445.9" y1="1240.5" x2="1445.9" y2="1245.5" stroke="#555" stroke-width="1.4"/>
<text x="1436.9" y="1268.2" font-size="20.5" text-anchor="middle">0.4</text>
<text x="1258.5" y="1292" font-size="20.8" text-anchor="middle">Anatomical hierarchy score</text>
<text x="993.5" y="1089.7" font-size="20.9" text-anchor="middle" transform="rotate(-90 993.5 1089.7)">Change Modulation Index</text>
<line x1="1084.4" y1="1119.8" x2="1462.5" y2="987.6" stroke="#111" stroke-width="2" stroke-dasharray="7 3.5"/>
<line x1="1084.4" y1="1154.1" x2="1462.5" y2="1110.9" stroke="#c4c4c4" stroke-width="1.8" stroke-dasharray="7 3.5"/>
<line x1="1084.58" y1="1153.6" x2="1084.58" y2="1205" stroke="#dc8ac6" stroke-width="1.8" stroke-opacity="0.4"/>
<circle cx="1084.58" cy="1176.8" r="4.4" fill="#fff" stroke="#dc8ac6" stroke-width="2" opacity="0.5"/>
<line x1="1146.99" y1="1098.2" x2="1146.99" y2="1128.5" stroke="#6e60b2" stroke-width="1.8" stroke-opacity="0.9"/>
<circle cx="1146.99" cy="1112.7" r="4.3" fill="#fff" stroke="#5a4c9c" stroke-width="2.4"/>
<line x1="1251.27" y1="1102.2" x2="1251.27" y2="1140.4" stroke="#3d62b0" stroke-width="1.8" stroke-opacity="0.4"/>
<circle cx="1251.27" cy="1120.9" r="4.4" fill="#fff" stroke="#3d62b0" stroke-width="2" opacity="0.5"/>
<line x1="1264.69" y1="1123.3" x2="1264.69" y2="1170.7" stroke="#4eaed8" stroke-width="1.8" stroke-opacity="0.4"/>
<circle cx="1264.69" cy="1147.8" r="4.4" fill="#fff" stroke="#4eaed8" stroke-width="2" opacity="0.5"/>
<line x1="1329.47" y1="1122" x2="1329.47" y2="1186.5" stroke="#409a58" stroke-width="1.8" stroke-opacity="0.4"/>
<circle cx="1329.47" cy="1152.8" r="4.4" fill="#fff" stroke="#409a58" stroke-width="2" opacity="0.5"/>
<line x1="1348.04" y1="1107.5" x2="1348.04" y2="1156.2" stroke="#cfb066" stroke-width="1.8" stroke-opacity="0.4"/>
<circle cx="1348.04" cy="1132" r="4.4" fill="#fff" stroke="#cfb066" stroke-width="2" opacity="0.5"/>
<line x1="1417.16" y1="1052.1" x2="1417.16" y2="1108.3" stroke="#e97a3c" stroke-width="1.8" stroke-opacity="0.4"/>
<circle cx="1417.16" cy="1079.8" r="4.4" fill="#fff" stroke="#e97a3c" stroke-width="2" opacity="0.5"/>
<line x1="1462.19" y1="1100.9" x2="1462.19" y2="1151" stroke="#c93842" stroke-width="1.8" stroke-opacity="0.4"/>
<circle cx="1462.19" cy="1125.4" r="4.4" fill="#fff" stroke="#c93842" stroke-width="2" opacity="0.5"/>
<line x1="1084.58" y1="1128.5" x2="1084.58" y2="1177.3" stroke="#dc8ac6" stroke-width="2" stroke-opacity="0.95"/>
<circle cx="1084.58" cy="1153.6" r="4.3" fill="#dc8ac6"/>
<line x1="1146.99" y1="1049.5" x2="1146.99" y2="1080.3" stroke="#6e60b2" stroke-width="2" stroke-opacity="0.95"/>
<circle cx="1146.99" cy="1065.3" r="4.3" fill="#6e60b2"/>
<line x1="1251.27" y1="1026.6" x2="1251.27" y2="1060" stroke="#3d62b0" stroke-width="2" stroke-opacity="0.95"/>
<circle cx="1251.27" cy="1044.2" r="4.3" fill="#3d62b0"/>
<line x1="1264.69" y1="1033.7" x2="1264.69" y2="1080.3" stroke="#4eaed8" stroke-width="2" stroke-opacity="0.95"/>
<circle cx="1264.69" cy="1056.6" r="4.3" fill="#4eaed8"/>
<line x1="1329.47" y1="1001.3" x2="1329.47" y2="1063.5" stroke="#409a58" stroke-width="2" stroke-opacity="0.95"/>
<circle cx="1329.47" cy="1032.4" r="4.3" fill="#409a58"/>
<line x1="1348.04" y1="1033.2" x2="1348.04" y2="1078.5" stroke="#cfb066" stroke-width="2" stroke-opacity="0.95"/>
<circle cx="1348.04" cy="1054.8" r="4.3" fill="#cfb066"/>
<line x1="1417.16" y1="940.1" x2="1417.16" y2="994.2" stroke="#e97a3c" stroke-width="2" stroke-opacity="0.95"/>
<circle cx="1417.16" cy="967.3" r="4.3" fill="#e97a3c"/>
<line x1="1462.19" y1="992.3" x2="1462.19" y2="1036.3" stroke="#c93842" stroke-width="2" stroke-opacity="0.95"/>
<circle cx="1462.19" cy="1014.4" r="4.3" fill="#c93842"/>
<text x="1553.5" y="892.7" font-size="32" font-weight="bold" style="stroke:none">l</text>
<circle cx="1700.5" cy="864" r="4.6" fill="#1a1a1a"/>
<text x="1715.2" y="870.7" font-size="20.2" font-weight="bold">Active</text>
<circle cx="1912.8" cy="864" r="4.2" fill="#fff" stroke="#1a1a1a" stroke-width="1.5"/>
<text x="1927.4" y="870.7" font-size="20.2" font-weight="bold">Passive</text>
<text x="1660.4" y="897" word-spacing="-1.3" font-size="21.4" xml:space="preserve"><tspan font-style="italic">r</tspan><tspan font-style="italic" font-size="13.27" dy="6.8">P</tspan><tspan dy="-6.8"> = -0.24; </tspan><tspan font-style="italic">P</tspan><tspan font-style="italic" font-size="13.27" dy="6.8">P</tspan><tspan dy="-6.8"> = 0.57</tspan></text>
<text x="1660.4" y="922" word-spacing="-1.3" font-size="21.4" xml:space="preserve"><tspan font-style="italic">r</tspan><tspan font-style="italic" font-size="13.27" dy="6.8">S</tspan><tspan dy="-6.8"> = -0.07; </tspan><tspan font-style="italic">P</tspan><tspan font-style="italic" font-size="13.27" dy="6.8">S</tspan><tspan dy="-6.8"> = 0.87</tspan></text>
<text x="1874" y="897" word-spacing="-1.3" font-size="21.4" xml:space="preserve"><tspan font-style="italic">r</tspan><tspan font-style="italic" font-size="13.27" dy="6.8">P</tspan><tspan dy="-6.8"> = -0.44; </tspan><tspan font-style="italic">P</tspan><tspan font-style="italic" font-size="13.27" dy="6.8">P</tspan><tspan dy="-6.8"> = 0.28</tspan></text>
<text x="1874" y="922" word-spacing="-1.3" font-size="21.4" xml:space="preserve"><tspan font-style="italic">r</tspan><tspan font-style="italic" font-size="13.27" dy="6.8">S</tspan><tspan dy="-6.8"> = -0.45; </tspan><tspan font-style="italic">P</tspan><tspan font-style="italic" font-size="13.27" dy="6.8">S</tspan><tspan dy="-6.8"> = 0.26</tspan></text>
<line x1="1625.9" y1="924.9" x2="1625.9" y2="1237.5" stroke="#555" stroke-width="1.4"/>
<line x1="1620.9" y1="960" x2="1625.9" y2="960" stroke="#555" stroke-width="1.4"/>
<text x="1617.5" y="965.6" font-size="20.5" text-anchor="end">4</text>
<line x1="1620.9" y1="1029.4" x2="1625.9" y2="1029.4" stroke="#555" stroke-width="1.4"/>
<text x="1617.5" y="1035" font-size="20.5" text-anchor="end">3</text>
<line x1="1620.9" y1="1098.5" x2="1625.9" y2="1098.5" stroke="#555" stroke-width="1.4"/>
<text x="1617.5" y="1104.1" font-size="20.5" text-anchor="end">2</text>
<line x1="1620.9" y1="1167.9" x2="1625.9" y2="1167.9" stroke="#555" stroke-width="1.4"/>
<text x="1617.5" y="1173.5" font-size="20.5" text-anchor="end">1</text>
<line x1="1620.9" y1="1237.5" x2="1625.9" y2="1237.5" stroke="#555" stroke-width="1.4"/>
<text x="1617.5" y="1243.1" font-size="20.5" text-anchor="end">0</text>
<line x1="1625.9" y1="1237.5" x2="2057.7" y2="1237.5" stroke="#555" stroke-width="1.4"/>
<line x1="1693.2" y1="1237.5" x2="1693.2" y2="1242.5" stroke="#555" stroke-width="1.4"/>
<text x="1686.7" y="1267.4" font-size="20.5" text-anchor="middle">−0.4</text>
<line x1="1775.2" y1="1237.5" x2="1775.2" y2="1242.5" stroke="#555" stroke-width="1.4"/>
<text x="1770.2" y="1267.4" font-size="20.5" text-anchor="middle">−0.2</text>
<line x1="1857.1" y1="1237.5" x2="1857.1" y2="1242.5" stroke="#555" stroke-width="1.4"/>
<text x="1855.1" y="1267.4" font-size="20.5" text-anchor="middle">0.0</text>
<line x1="1939.1" y1="1237.5" x2="1939.1" y2="1242.5" stroke="#555" stroke-width="1.4"/>
<text x="1936.1" y="1267.4" font-size="20.5" text-anchor="middle">0.2</text>
<line x1="2021" y1="1237.5" x2="2021" y2="1242.5" stroke="#555" stroke-width="1.4"/>
<text x="2016.3" y="1267.4" font-size="20.5" text-anchor="middle">0.4</text>
<text x="1841" y="1290.8" font-size="20.8" text-anchor="middle">Anatomical hierarchy score</text>
<text x="1588" y="1081.5" font-size="20.8" text-anchor="middle" transform="rotate(-90 1588 1081.5)">Pre-change response (spikes/s)</text>
<line x1="1646.1" y1="1047.8" x2="1646.1" y2="1134.2" stroke="#dc8ac6" stroke-width="2" stroke-opacity="0.9"/>
<line x1="1710.84" y1="939.5" x2="1710.84" y2="1018.6" stroke="#6e60b2" stroke-width="2" stroke-opacity="0.9"/>
<line x1="1819" y1="1001" x2="1819" y2="1078.6" stroke="#3d62b0" stroke-width="2" stroke-opacity="0.9"/>
<line x1="1832.93" y1="1094" x2="1832.93" y2="1157.6" stroke="#4eaed8" stroke-width="2" stroke-opacity="0.9"/>
<line x1="1900.12" y1="1176.6" x2="1900.12" y2="1220.6" stroke="#409a58" stroke-width="2" stroke-opacity="0.9"/>
<line x1="1919.37" y1="1000.4" x2="1919.37" y2="1100.5" stroke="#cfb066" stroke-width="2" stroke-opacity="0.9"/>
<line x1="1991.07" y1="1011.3" x2="1991.07" y2="1135.7" stroke="#e97a3c" stroke-width="2" stroke-opacity="0.9"/>
<line x1="2037.78" y1="1065.4" x2="2037.78" y2="1143" stroke="#c93842" stroke-width="2" stroke-opacity="0.9"/>
<circle cx="1646.1" cy="1093.8" r="4.8" fill="#dc8ac6"/>
<circle cx="1710.84" cy="992" r="4.4" fill="#fff" stroke="#6e60b2" stroke-width="1.5"/>
<circle cx="1710.84" cy="971.1" r="4.8" fill="#6e60b2"/>
<circle cx="1819" cy="1048.4" r="4.4" fill="#fff" stroke="#3d62b0" stroke-width="1.5"/>
<circle cx="1819" cy="1037" r="4.8" fill="#3d62b0"/>
<circle cx="1832.93" cy="1138.6" r="4.4" fill="#fff" stroke="#4eaed8" stroke-width="1.5"/>
<circle cx="1832.93" cy="1118.7" r="4.8" fill="#4eaed8"/>
<circle cx="1900.12" cy="1197.1" r="4.4" fill="#fff" stroke="#409a58" stroke-width="1.5"/>
<circle cx="1900.12" cy="1202.4" r="4.8" fill="#409a58"/>
<circle cx="1919.37" cy="1073.6" r="4.4" fill="#fff" stroke="#cfb066" stroke-width="1.5"/>
<circle cx="1919.37" cy="1036.7" r="4.8" fill="#cfb066"/>
<circle cx="1991.07" cy="1104" r="4.4" fill="#fff" stroke="#e97a3c" stroke-width="1.5"/>
<circle cx="1991.07" cy="1057.5" r="4.8" fill="#e97a3c"/>
<circle cx="2037.78" cy="1123.4" r="4.4" fill="#fff" stroke="#c93842" stroke-width="1.5"/>
<circle cx="2037.78" cy="1092.3" r="4.8" fill="#c93842"/>
<text x="36" y="1366.4" font-size="32" font-weight="bold" style="stroke:none">m</text>
<circle cx="168.8" cy="1360.5" r="4.6" fill="#1a1a1a"/>
<text x="182.7" y="1367" font-size="20.2" font-weight="bold">Active</text>
<circle cx="375.7" cy="1360.5" r="4.2" fill="#fff" stroke="#1a1a1a" stroke-width="1.5"/>
<text x="390.3" y="1367" font-size="20.2" font-weight="bold">Passive</text>
<text x="136.5" y="1391.2" word-spacing="-1.3" font-size="21.4" xml:space="preserve"><tspan font-style="italic">r</tspan><tspan font-style="italic" font-size="13.27" dy="6.8">P</tspan><tspan dy="-6.8"> = -0.11; </tspan><tspan font-style="italic">P</tspan><tspan font-style="italic" font-size="13.27" dy="6.8">P</tspan><tspan dy="-6.8"> = 0.80</tspan></text>
<text x="136.5" y="1416.2" word-spacing="-1.3" font-size="21.4" xml:space="preserve"><tspan font-style="italic">r</tspan><tspan font-style="italic" font-size="13.27" dy="6.8">S</tspan><tspan dy="-6.8"> = 0.05; </tspan><tspan font-style="italic">P</tspan><tspan font-style="italic" font-size="13.27" dy="6.8">S</tspan><tspan dy="-6.8"> = 0.91</tspan></text>
<text x="334.6" y="1391.2" word-spacing="-1.3" font-size="21.4" xml:space="preserve"><tspan font-style="italic">r</tspan><tspan font-style="italic" font-size="13.27" dy="6.8">P</tspan><tspan dy="-6.8"> = -0.19; </tspan><tspan font-style="italic">P</tspan><tspan font-style="italic" font-size="13.27" dy="6.8">P</tspan><tspan dy="-6.8"> = 0.66</tspan></text>
<text x="334.6" y="1416.2" word-spacing="-1.3" font-size="21.4" xml:space="preserve"><tspan font-style="italic">r</tspan><tspan font-style="italic" font-size="13.27" dy="6.8">S</tspan><tspan dy="-6.8"> = -0.14; </tspan><tspan font-style="italic">P</tspan><tspan font-style="italic" font-size="13.27" dy="6.8">S</tspan><tspan dy="-6.8"> = 0.74</tspan></text>
<line x1="114.2" y1="1422.3" x2="114.2" y2="1725.2" stroke="#5a5a5a" stroke-width="1.4"/>
<line x1="109.2" y1="1725.2" x2="114.2" y2="1725.2" stroke="#5a5a5a" stroke-width="1.4"/>
<text x="106" y="1730.8" font-size="20.5" text-anchor="end">0</text>
<line x1="109.2" y1="1686.34" x2="114.2" y2="1686.34" stroke="#5a5a5a" stroke-width="1.4"/>
<text x="106" y="1691.94" font-size="20.5" text-anchor="end">1</text>
<line x1="109.2" y1="1647.48" x2="114.2" y2="1647.48" stroke="#5a5a5a" stroke-width="1.4"/>
<text x="106" y="1653.08" font-size="20.5" text-anchor="end">2</text>
<line x1="109.2" y1="1608.62" x2="114.2" y2="1608.62" stroke="#5a5a5a" stroke-width="1.4"/>
<text x="106" y="1614.22" font-size="20.5" text-anchor="end">3</text>
<line x1="109.2" y1="1569.76" x2="114.2" y2="1569.76" stroke="#5a5a5a" stroke-width="1.4"/>
<text x="106" y="1575.36" font-size="20.5" text-anchor="end">4</text>
<line x1="109.2" y1="1530.9" x2="114.2" y2="1530.9" stroke="#5a5a5a" stroke-width="1.4"/>
<text x="106" y="1536.5" font-size="20.5" text-anchor="end">5</text>
<line x1="109.2" y1="1492.04" x2="114.2" y2="1492.04" stroke="#5a5a5a" stroke-width="1.4"/>
<text x="106" y="1497.64" font-size="20.5" text-anchor="end">6</text>
<line x1="109.2" y1="1453.18" x2="114.2" y2="1453.18" stroke="#5a5a5a" stroke-width="1.4"/>
<text x="106" y="1458.78" font-size="20.5" text-anchor="end">7</text>
<line x1="110.2" y1="1725.2" x2="533.5" y2="1725.2" stroke="#444" stroke-width="1.4"/>
<line x1="178.7" y1="1725.2" x2="178.7" y2="1730.2" stroke="#444" stroke-width="1.4"/>
<text x="174.2" y="1752" font-size="20.5" text-anchor="middle">−0.4</text>
<line x1="258.5" y1="1725.2" x2="258.5" y2="1730.2" stroke="#444" stroke-width="1.4"/>
<text x="255.5" y="1752" font-size="20.5" text-anchor="middle">−0.2</text>
<line x1="338.1" y1="1725.2" x2="338.1" y2="1730.2" stroke="#444" stroke-width="1.4"/>
<text x="337.6" y="1752" font-size="20.5" text-anchor="middle">0.0</text>
<line x1="417.4" y1="1725.2" x2="417.4" y2="1730.2" stroke="#444" stroke-width="1.4"/>
<text x="416.4" y="1752" font-size="20.5" text-anchor="middle">0.2</text>
<line x1="497.2" y1="1725.2" x2="497.2" y2="1730.2" stroke="#444" stroke-width="1.4"/>
<text x="495.2" y="1752" font-size="20.5" text-anchor="middle">0.4</text>
<text x="327.9" y="1776.3" font-size="20.8" text-anchor="middle">Anatomical hierarchy score</text>
<text x="69" y="1570.6" font-size="20.6" text-anchor="middle" transform="rotate(-90 69 1570.6)">Change response (spikes/s)</text>
<line x1="133.13" y1="1590" x2="133.13" y2="1629.8" stroke="#dc8ac6" stroke-width="1.8" stroke-opacity="0.75"/>
<line x1="133.13" y1="1555" x2="133.13" y2="1629.8" stroke="#dc8ac6" stroke-width="2" stroke-opacity="0.9"/>
<line x1="196.01" y1="1436.3" x2="196.01" y2="1522.3" stroke="#6e60b2" stroke-width="2" stroke-opacity="0.9"/>
<line x1="301.09" y1="1459.2" x2="301.09" y2="1555.9" stroke="#3d62b0" stroke-width="2" stroke-opacity="0.9"/>
<line x1="314.62" y1="1607" x2="314.62" y2="1636.5" stroke="#4eaed8" stroke-width="1.8" stroke-opacity="0.75"/>
<line x1="314.62" y1="1541.1" x2="314.62" y2="1585.5" stroke="#4eaed8" stroke-width="2" stroke-opacity="0.9"/>
<line x1="379.89" y1="1630" x2="379.89" y2="1671.5" stroke="#409a58" stroke-width="1.8" stroke-opacity="0.75"/>
<line x1="379.89" y1="1590.8" x2="379.89" y2="1671.5" stroke="#409a58" stroke-width="2" stroke-opacity="0.9"/>
<line x1="398.6" y1="1454.6" x2="398.6" y2="1575.5" stroke="#cfb066" stroke-width="2" stroke-opacity="0.9"/>
<line x1="468.25" y1="1441.1" x2="468.25" y2="1597.5" stroke="#e97a3c" stroke-width="2" stroke-opacity="0.9"/>
<line x1="513.62" y1="1572" x2="513.62" y2="1610.5" stroke="#c93842" stroke-width="1.8" stroke-opacity="0.75"/>
<line x1="513.62" y1="1503" x2="513.62" y2="1556.7" stroke="#c93842" stroke-width="2" stroke-opacity="0.9"/>
<circle cx="133.13" cy="1605" r="4.4" fill="#fff" stroke="#dc8ac6" stroke-width="1.5"/>
<circle cx="133.13" cy="1587.6" r="4.8" fill="#dc8ac6"/>
<circle cx="196.01" cy="1501.6" r="4.4" fill="#fff" stroke="#6e60b2" stroke-width="1.5"/>
<circle cx="196.01" cy="1461.3" r="4.8" fill="#6e60b2"/>
<circle cx="301.09" cy="1530.9" r="4.4" fill="#fff" stroke="#3d62b0" stroke-width="1.5"/>
<circle cx="301.09" cy="1490.6" r="4.8" fill="#3d62b0"/>
<circle cx="314.62" cy="1622.5" r="4.4" fill="#fff" stroke="#4eaed8" stroke-width="1.5"/>
<circle cx="314.62" cy="1564" r="4.8" fill="#4eaed8"/>
<circle cx="379.89" cy="1655.3" r="4.4" fill="#fff" stroke="#409a58" stroke-width="1.5"/>
<circle cx="379.89" cy="1614.2" r="4.8" fill="#409a58"/>
<circle cx="398.6" cy="1547.8" r="4.4" fill="#fff" stroke="#cfb066" stroke-width="1.5"/>
<circle cx="398.6" cy="1492" r="4.8" fill="#cfb066"/>
<circle cx="468.25" cy="1567.2" r="4.4" fill="#fff" stroke="#e97a3c" stroke-width="1.5"/>
<circle cx="468.25" cy="1489.2" r="4.8" fill="#e97a3c"/>
<circle cx="513.62" cy="1592.2" r="4.4" fill="#fff" stroke="#c93842" stroke-width="1.5"/>
<circle cx="513.62" cy="1531.7" r="4.8" fill="#c93842"/>
<text x="576.5" y="1365" font-size="32" font-weight="bold" style="stroke:none">n</text>
<circle cx="719.5" cy="1352.5" r="4.6" fill="#1a1a1a"/>
<text x="733.5" y="1359" font-size="20.2" font-weight="bold">Active</text>
<circle cx="926.5" cy="1352.5" r="4.2" fill="#fff" stroke="#1a1a1a" stroke-width="1.5"/>
<text x="941.1" y="1359" font-size="20.2" font-weight="bold">Passive</text>
<text x="686.5" y="1384.7" word-spacing="-1.3" font-size="21.4" xml:space="preserve"><tspan font-style="italic">r</tspan><tspan font-style="italic" font-size="13.27" dy="6.8">P</tspan><tspan dy="-6.8"> = -0.58; </tspan><tspan font-style="italic">P</tspan><tspan font-style="italic" font-size="13.27" dy="6.8">P</tspan><tspan dy="-6.8"> = 0.13</tspan></text>
<text x="686.5" y="1410" word-spacing="-1.3" font-size="21.4" xml:space="preserve"><tspan font-style="italic">r</tspan><tspan font-style="italic" font-size="13.27" dy="6.8">S</tspan><tspan dy="-6.8"> = -0.48; </tspan><tspan font-style="italic">P</tspan><tspan font-style="italic" font-size="13.27" dy="6.8">S</tspan><tspan dy="-6.8"> = 0.23</tspan></text>
<text x="888" y="1382.6" word-spacing="-1.3" font-size="21.4" xml:space="preserve"><tspan font-style="italic">r</tspan><tspan font-style="italic" font-size="13.27" dy="6.8">P</tspan><tspan dy="-6.8"> = -0.65; </tspan><tspan font-style="italic">P</tspan><tspan font-style="italic" font-size="13.27" dy="6.8">P</tspan><tspan dy="-6.8"> = 0.08</tspan></text>
<text x="888" y="1406.7" word-spacing="-1.3" font-size="21.4" xml:space="preserve"><tspan font-style="italic">r</tspan><tspan font-style="italic" font-size="13.27" dy="6.8">S</tspan><tspan dy="-6.8"> = -0.69; </tspan><tspan font-style="italic">P</tspan><tspan font-style="italic" font-size="13.27" dy="6.8">S</tspan><tspan dy="-6.8"> = 0.06</tspan></text>
<line x1="656.1" y1="1408.9" x2="656.1" y2="1704.5" stroke="#555" stroke-width="1.4"/>
<line x1="651.1" y1="1704.5" x2="656.1" y2="1704.5" stroke="#555" stroke-width="1.4"/>
<text x="642.5" y="1710.1" font-size="20.5" text-anchor="end">0</text>
<line x1="651.1" y1="1662.54" x2="656.1" y2="1662.54" stroke="#555" stroke-width="1.4"/>
<text x="642.5" y="1668.14" font-size="20.5" text-anchor="end">2</text>
<line x1="651.1" y1="1620.58" x2="656.1" y2="1620.58" stroke="#555" stroke-width="1.4"/>
<text x="642.5" y="1626.18" font-size="20.5" text-anchor="end">4</text>
<line x1="651.1" y1="1578.62" x2="656.1" y2="1578.62" stroke="#555" stroke-width="1.4"/>
<text x="642.5" y="1584.22" font-size="20.5" text-anchor="end">6</text>
<line x1="651.1" y1="1536.66" x2="656.1" y2="1536.66" stroke="#555" stroke-width="1.4"/>
<text x="642.5" y="1542.26" font-size="20.5" text-anchor="end">8</text>
<line x1="651.1" y1="1494.7" x2="656.1" y2="1494.7" stroke="#555" stroke-width="1.4"/>
<text x="642.5" y="1500.3" font-size="20.5" text-anchor="end">10</text>
<line x1="651.1" y1="1452.74" x2="656.1" y2="1452.74" stroke="#555" stroke-width="1.4"/>
<text x="642.5" y="1458.34" font-size="20.5" text-anchor="end">12</text>
<line x1="651.1" y1="1410.78" x2="656.1" y2="1410.78" stroke="#555" stroke-width="1.4"/>
<text x="642.5" y="1416.38" font-size="20.5" text-anchor="end">14</text>
<line x1="652.9" y1="1704.5" x2="1068.1" y2="1704.5" stroke="#555" stroke-width="1.4"/>
<line x1="719.5" y1="1704.5" x2="719.5" y2="1709.5" stroke="#555" stroke-width="1.4"/>
<text x="713.5" y="1731.4" font-size="20.5" text-anchor="middle">−0.4</text>
<line x1="798" y1="1704.5" x2="798" y2="1709.5" stroke="#555" stroke-width="1.4"/>
<text x="795" y="1731.4" font-size="20.5" text-anchor="middle">−0.2</text>
<line x1="876.5" y1="1704.5" x2="876.5" y2="1709.5" stroke="#555" stroke-width="1.4"/>
<text x="876.5" y="1731.4" font-size="20.5" text-anchor="middle">0.0</text>
<line x1="955.2" y1="1704.5" x2="955.2" y2="1709.5" stroke="#555" stroke-width="1.4"/>
<text x="955.2" y="1731.4" font-size="20.5" text-anchor="middle">0.2</text>
<line x1="1034" y1="1704.5" x2="1034" y2="1709.5" stroke="#555" stroke-width="1.4"/>
<text x="1034" y="1731.4" font-size="20.5" text-anchor="middle">0.4</text>
<text x="860" y="1756.1" font-size="20.8" text-anchor="middle">Anatomical hierarchy score</text>
<text x="598.5" y="1566" font-size="20.2" text-anchor="middle" transform="rotate(-90 598.5 1566)">Baseline rate (Hz)</text>
<line x1="674.11" y1="1422.9" x2="674.11" y2="1460.5" stroke="#dc8ac6" stroke-width="1.8" stroke-opacity="0.75"/>
<line x1="674.11" y1="1482" x2="674.11" y2="1519.6" stroke="#dc8ac6" stroke-width="2" stroke-opacity="0.9"/>
<line x1="736.2" y1="1566.7" x2="736.2" y2="1588.2" stroke="#6e60b2" stroke-width="1.8" stroke-opacity="0.75"/>
<line x1="736.2" y1="1599" x2="736.2" y2="1619.6" stroke="#6e60b2" stroke-width="2" stroke-opacity="0.9"/>
<line x1="839.95" y1="1563.2" x2="839.95" y2="1589" stroke="#3d62b0" stroke-width="1.8" stroke-opacity="0.75"/>
<line x1="839.95" y1="1599" x2="839.95" y2="1625.8" stroke="#3d62b0" stroke-width="2" stroke-opacity="0.9"/>
<line x1="853.31" y1="1520.2" x2="853.31" y2="1555.9" stroke="#4eaed8" stroke-width="1.8" stroke-opacity="0.75"/>
<line x1="853.31" y1="1538.4" x2="853.31" y2="1568.5" stroke="#4eaed8" stroke-width="2" stroke-opacity="0.9"/>
<line x1="917.76" y1="1500.8" x2="917.76" y2="1538.4" stroke="#409a58" stroke-width="1.8" stroke-opacity="0.75"/>
<line x1="917.76" y1="1541.1" x2="917.76" y2="1577.4" stroke="#409a58" stroke-width="2" stroke-opacity="0.9"/>
<line x1="936.24" y1="1574.7" x2="936.24" y2="1603" stroke="#cfb066" stroke-width="1.8" stroke-opacity="0.75"/>
<line x1="936.24" y1="1603" x2="936.24" y2="1632.5" stroke="#cfb066" stroke-width="2" stroke-opacity="0.9"/>
<line x1="1005.01" y1="1584.1" x2="1005.01" y2="1612.3" stroke="#e97a3c" stroke-width="1.8" stroke-opacity="0.75"/>
<line x1="1005.01" y1="1608.3" x2="1005.01" y2="1633.8" stroke="#e97a3c" stroke-width="2" stroke-opacity="0.9"/>
<line x1="1049.81" y1="1569.3" x2="1049.81" y2="1599" stroke="#c93842" stroke-width="1.8" stroke-opacity="0.75"/>
<line x1="1049.81" y1="1594.9" x2="1049.81" y2="1619" stroke="#c93842" stroke-width="2" stroke-opacity="0.9"/>
<circle cx="674.11" cy="1442.5" r="4.4" fill="#fff" stroke="#dc8ac6" stroke-width="1.5"/>
<circle cx="674.11" cy="1501.3" r="4.8" fill="#dc8ac6"/>
<circle cx="736.2" cy="1577.9" r="4.4" fill="#fff" stroke="#6e60b2" stroke-width="1.5"/>
<circle cx="736.2" cy="1609.1" r="4.8" fill="#6e60b2"/>
<circle cx="839.95" cy="1576.9" r="4.4" fill="#fff" stroke="#3d62b0" stroke-width="1.5"/>
<circle cx="839.95" cy="1612.9" r="4.8" fill="#3d62b0"/>
<circle cx="853.31" cy="1539" r="4.4" fill="#fff" stroke="#4eaed8" stroke-width="1.5"/>
<circle cx="853.31" cy="1549.2" r="4.8" fill="#4eaed8"/>
<circle cx="917.76" cy="1520.2" r="4.4" fill="#fff" stroke="#409a58" stroke-width="1.5"/>
<circle cx="917.76" cy="1559.4" r="4.8" fill="#409a58"/>
<circle cx="936.24" cy="1590.3" r="4.4" fill="#fff" stroke="#cfb066" stroke-width="1.5"/>
<circle cx="936.24" cy="1617.2" r="4.8" fill="#cfb066"/>
<circle cx="1005.01" cy="1598.4" r="4.4" fill="#fff" stroke="#e97a3c" stroke-width="1.5"/>
<circle cx="1005.01" cy="1621.7" r="4.8" fill="#e97a3c"/>
<circle cx="1049.81" cy="1584.1" r="4.4" fill="#fff" stroke="#c93842" stroke-width="1.5"/>
<circle cx="1049.81" cy="1606.4" r="4.8" fill="#c93842"/>
<text x="1110.5" y="1365" font-size="32" font-weight="bold" style="stroke:none">o</text>
<line x1="1187.5" y1="1400.8" x2="1187.5" y2="1705.6" stroke="#444" stroke-width="1.4"/>
<line x1="1182.5" y1="1401.4" x2="1187.5" y2="1401.4" stroke="#444" stroke-width="1.4"/>
<text x="1176.5" y="1407" font-size="20.5" text-anchor="end">1.0</text>
<line x1="1182.5" y1="1462.4" x2="1187.5" y2="1462.4" stroke="#444" stroke-width="1.4"/>
<text x="1176.5" y="1468" font-size="20.5" text-anchor="end">0.9</text>
<line x1="1182.5" y1="1523.1" x2="1187.5" y2="1523.1" stroke="#444" stroke-width="1.4"/>
<text x="1176.5" y="1528.7" font-size="20.5" text-anchor="end">0.8</text>
<line x1="1182.5" y1="1584.1" x2="1187.5" y2="1584.1" stroke="#444" stroke-width="1.4"/>
<text x="1176.5" y="1589.7" font-size="20.5" text-anchor="end">0.7</text>
<line x1="1182.5" y1="1645.1" x2="1187.5" y2="1645.1" stroke="#444" stroke-width="1.4"/>
<text x="1176.5" y="1650.7" font-size="20.5" text-anchor="end">0.6</text>
<line x1="1187.5" y1="1705.6" x2="1601.5" y2="1705.6" stroke="#555" stroke-width="1.4"/>
<line x1="1187.5" y1="1705.6" x2="1187.5" y2="1710.6" stroke="#555" stroke-width="1.4"/>
<text x="1187.5" y="1733.3" font-size="20.5" text-anchor="middle">0</text>
<line x1="1279.4" y1="1705.6" x2="1279.4" y2="1710.6" stroke="#555" stroke-width="1.4"/>
<text x="1279.4" y="1733.3" font-size="20.5" text-anchor="middle">10</text>
<line x1="1371" y1="1705.6" x2="1371" y2="1710.6" stroke="#555" stroke-width="1.4"/>
<text x="1371" y="1733.3" font-size="20.5" text-anchor="middle">20</text>
<line x1="1463" y1="1705.6" x2="1463" y2="1710.6" stroke="#555" stroke-width="1.4"/>
<text x="1463" y="1733.3" font-size="20.5" text-anchor="middle">30</text>
<line x1="1554.9" y1="1705.6" x2="1554.9" y2="1710.6" stroke="#555" stroke-width="1.4"/>
<text x="1554.9" y="1733.3" font-size="20.5" text-anchor="middle">40</text>
<path d="M1184 1678.96 L1190 1675.74 L1190 1682.64 L1184 1685.86 Z" fill="#fff"/>
<line x1="1173.8" y1="1684.45" x2="1200.2" y2="1670.25" stroke="#0a0a0a" stroke-width="1.7"/>
<line x1="1173.8" y1="1691.35" x2="1200.2" y2="1677.15" stroke="#0a0a0a" stroke-width="1.7"/>
<text x="1385" y="1756.1" font-size="20.8" text-anchor="middle">Number of cells</text>
<text x="1126" y="1560" text-anchor="middle" transform="rotate(-90 1126 1560)">Decoder accuracy</text>
<path d="M1233.2 1601.6 L1279.4 1559.9 L1371 1527.7 L1554.9 1508" fill="none" stroke="#111" stroke-width="2.2" stroke-linejoin="round"/>
<line x1="1233.2" y1="1597.1" x2="1233.2" y2="1606.1" stroke="#111" stroke-width="1.6"/>
<path d="M1229.6 1601.6 L1233.2 1597.4 L1236.8 1601.6 L1233.2 1605.8 Z" fill="#111"/>
<line x1="1279.4" y1="1555.4" x2="1279.4" y2="1564.4" stroke="#111" stroke-width="1.6"/>
<path d="M1275.8 1559.9 L1279.4 1555.7 L1283 1559.9 L1279.4 1564.1 Z" fill="#111"/>
<line x1="1371" y1="1523.2" x2="1371" y2="1532.2" stroke="#111" stroke-width="1.6"/>
<path d="M1367.4 1527.7 L1371 1523.5 L1374.6 1527.7 L1371 1531.9 Z" fill="#111"/>
<line x1="1554.9" y1="1503.5" x2="1554.9" y2="1512.5" stroke="#111" stroke-width="1.6"/>
<path d="M1551.3 1508 L1554.9 1503.8 L1558.5 1508 L1554.9 1512.2 Z" fill="#111"/>
<text x="1608" y="1365" font-size="32" font-weight="bold" style="stroke:none">p</text>
<line x1="1700.9" y1="1411.6" x2="1700.9" y2="1704.5" stroke="#444" stroke-width="1.4"/>
<line x1="1695.9" y1="1412.1" x2="1700.9" y2="1412.1" stroke="#444" stroke-width="1.4"/>
<text x="1690" y="1417.7" font-size="20.5" text-anchor="end">1.0</text>
<line x1="1695.9" y1="1470.4" x2="1700.9" y2="1470.4" stroke="#444" stroke-width="1.4"/>
<text x="1690" y="1476" font-size="20.5" text-anchor="end">0.9</text>
<line x1="1695.9" y1="1529" x2="1700.9" y2="1529" stroke="#444" stroke-width="1.4"/>
<text x="1690" y="1534.6" font-size="20.5" text-anchor="end">0.8</text>
<line x1="1695.9" y1="1587.3" x2="1700.9" y2="1587.3" stroke="#444" stroke-width="1.4"/>
<text x="1690" y="1592.9" font-size="20.5" text-anchor="end">0.7</text>
<line x1="1695.9" y1="1645.9" x2="1700.9" y2="1645.9" stroke="#444" stroke-width="1.4"/>
<text x="1690" y="1651.5" font-size="20.5" text-anchor="end">0.6</text>
<line x1="1700.9" y1="1704.5" x2="2104" y2="1704.5" stroke="#444" stroke-width="1.4"/>
<line x1="1763.3" y1="1704.5" x2="1763.3" y2="1709.5" stroke="#444" stroke-width="1.4"/>
<text x="1757.3" y="1732.5" font-size="20.5" text-anchor="middle">−0.4</text>
<line x1="1839.9" y1="1704.5" x2="1839.9" y2="1709.5" stroke="#444" stroke-width="1.4"/>
<text x="1834.9" y="1732.5" font-size="20.5" text-anchor="middle">−0.2</text>
<line x1="1916.5" y1="1704.5" x2="1916.5" y2="1709.5" stroke="#444" stroke-width="1.4"/>
<text x="1913.9" y="1732.5" font-size="20.5" text-anchor="middle">0.0</text>
<line x1="1993" y1="1704.5" x2="1993" y2="1709.5" stroke="#444" stroke-width="1.4"/>
<text x="1990" y="1732.5" font-size="20.5" text-anchor="middle">0.2</text>
<line x1="2069.9" y1="1704.5" x2="2069.9" y2="1709.5" stroke="#444" stroke-width="1.4"/>
<text x="2064.4" y="1732.5" font-size="20.5" text-anchor="middle">0.4</text>
<path d="M1696.6 1676.46 L1702.6 1673.24 L1702.6 1680.14 L1696.6 1683.36 Z" fill="#fff"/>
<line x1="1686.4" y1="1681.95" x2="1712.8" y2="1667.75" stroke="#0a0a0a" stroke-width="1.7"/>
<line x1="1686.4" y1="1688.85" x2="1712.8" y2="1674.65" stroke="#0a0a0a" stroke-width="1.7"/>
<text x="1894.3" y="1756.1" font-size="20.8" text-anchor="middle">Anatomical hierarchy score</text>
<text x="1639.5" y="1566.6" text-anchor="middle" transform="rotate(-90 1639.5 1566.6)">Decoder accuracy</text>
<circle cx="1719.26" cy="1594.1" r="5.6" fill="#e29bd0"/>
<circle cx="1779.77" cy="1529" r="5.6" fill="#7a6cc0"/>
<line x1="1880.88" y1="1518.4" x2="1880.88" y2="1533.2" stroke="#4a78c8" stroke-width="2"/>
<circle cx="1880.88" cy="1525.8" r="5.6" fill="#4a78c8"/>
<line x1="1893.9" y1="1541.7" x2="1893.9" y2="1562.1" stroke="#5ab8dc" stroke-width="2"/>
<circle cx="1893.9" cy="1551.9" r="5.6" fill="#5ab8dc"/>
<line x1="1956.71" y1="1534.4" x2="1956.71" y2="1584.1" stroke="#4a9e5a" stroke-width="2"/>
<circle cx="1956.71" cy="1558.6" r="5.6" fill="#4a9e5a"/>
<line x1="1974.72" y1="1509.7" x2="1974.72" y2="1525.3" stroke="#d4b46a" stroke-width="2"/>
<circle cx="1974.72" cy="1517.5" r="5.6" fill="#d4b46a"/>
<line x1="2041.74" y1="1497.7" x2="2041.74" y2="1520.1" stroke="#ec8040" stroke-width="2"/>
<circle cx="2041.74" cy="1508.9" r="5.6" fill="#ec8040"/>
<line x1="2085.4" y1="1529.8" x2="2085.4" y2="1549.8" stroke="#d03a48" stroke-width="2"/>
<circle cx="2085.4" cy="1539.8" r="5.6" fill="#d03a48"/>
<text x="1933.4" y="1641.9" word-spacing="-1.3" font-size="21.4" xml:space="preserve"><tspan font-style="italic">r</tspan><tspan font-style="italic" font-size="13.27" dy="6.8">P</tspan><tspan dy="-6.8"> = 0.57; </tspan><tspan font-style="italic">P</tspan><tspan font-style="italic" font-size="13.27" dy="6.8">P</tspan><tspan dy="-6.8"> = 0.14</tspan></text>
<text x="1933.4" y="1667.4" word-spacing="-1.3" font-size="21.4" xml:space="preserve"><tspan font-style="italic">r</tspan><tspan font-style="italic" font-size="13.27" dy="6.8">S</tspan><tspan dy="-6.8"> = 0.45; </tspan><tspan font-style="italic">P</tspan><tspan font-style="italic" font-size="13.27" dy="6.8">S</tspan><tspan dy="-6.8"> = 0.26</tspan></text>
</svg>
</body></html>
